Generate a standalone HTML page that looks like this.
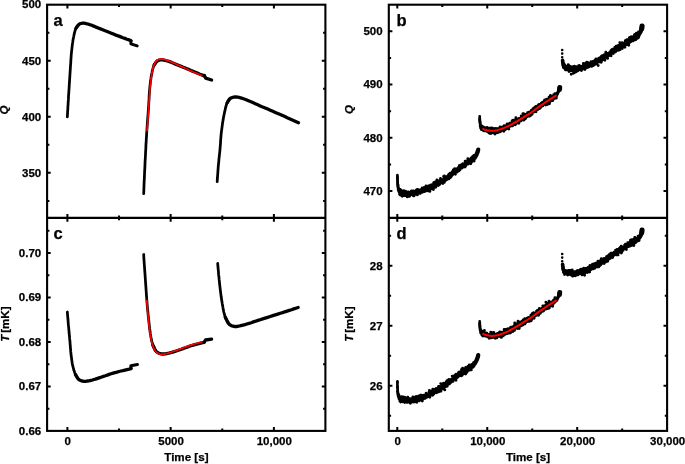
<!DOCTYPE html>
<html lang="en"><head><meta charset="utf-8"><title>Figure</title>
<style>
html,body{margin:0;padding:0;background:#fff;}
body{width:685px;height:464px;overflow:hidden;}
svg{display:block;}
svg text{font-family:"Liberation Sans",Arial,Helvetica,sans-serif;font-weight:bold;fill:#000;stroke:#000;stroke-width:0.25px;}
</style></head><body>
<svg width="685" height="464" viewBox="0 0 685 464">
<rect width="685" height="464" fill="#fff"/>
<rect x="47.1" y="4.7" width="278.3" height="426.2" fill="none" stroke="#000" stroke-width="2.1"/>
<line x1="47.1" y1="217.9" x2="325.4" y2="217.9" stroke="#000" stroke-width="2.1"/>
<rect x="388.8" y="4.7" width="278.3" height="426.2" fill="none" stroke="#000" stroke-width="2.1"/>
<line x1="388.8" y1="217.9" x2="667.1" y2="217.9" stroke="#000" stroke-width="2.1"/>
<path d="M67.40,4.70V8.50M67.40,214.10V221.70M67.40,427.10V430.90M119.03,4.70V7.00M119.03,215.60V220.20M119.03,428.60V430.90M170.65,4.70V8.50M170.65,214.10V221.70M170.65,427.10V430.90M222.28,4.70V7.00M222.28,215.60V220.20M222.28,428.60V430.90M273.90,4.70V8.50M273.90,214.10V221.70M273.90,427.10V430.90M397.30,4.70V8.50M397.30,214.10V221.70M397.30,427.10V430.90M442.28,4.70V7.00M442.28,215.60V220.20M442.28,428.60V430.90M487.25,4.70V8.50M487.25,214.10V221.70M487.25,427.10V430.90M532.23,4.70V7.00M532.23,215.60V220.20M532.23,428.60V430.90M577.20,4.70V8.50M577.20,214.10V221.70M577.20,427.10V430.90M622.17,4.70V7.00M622.17,215.60V220.20M622.17,428.60V430.90M47.10,60.75H50.70M321.80,60.75H325.40M47.10,116.80H50.70M321.80,116.80H325.40M47.10,172.85H50.70M321.80,172.85H325.40M47.10,32.73H49.40M323.10,32.73H325.40M47.10,88.78H49.40M323.10,88.78H325.40M47.10,144.82H49.40M323.10,144.82H325.40M47.10,200.88H49.40M323.10,200.88H325.40M47.10,253.00H50.70M321.80,253.00H325.40M47.10,297.47H50.70M321.80,297.47H325.40M47.10,341.94H50.70M321.80,341.94H325.40M47.10,386.41H50.70M321.80,386.41H325.40M47.10,230.76H49.40M323.10,230.76H325.40M47.10,275.24H49.40M323.10,275.24H325.40M47.10,319.70H49.40M323.10,319.70H325.40M47.10,364.17H49.40M323.10,364.17H325.40M47.10,408.64H49.40M323.10,408.64H325.40M388.80,31.30H392.40M663.50,31.30H667.10M388.80,84.55H392.40M663.50,84.55H667.10M388.80,137.80H392.40M663.50,137.80H667.10M388.80,191.05H392.40M663.50,191.05H667.10M388.80,57.92H391.10M664.80,57.92H667.10M388.80,111.17H391.10M664.80,111.17H667.10M388.80,164.43H391.10M664.80,164.43H667.10M388.80,265.86H392.40M663.50,265.86H667.10M388.80,325.86H392.40M663.50,325.86H667.10M388.80,385.86H392.40M663.50,385.86H667.10M388.80,235.86H391.10M664.80,235.86H667.10M388.80,295.86H391.10M664.80,295.86H667.10M388.80,355.86H391.10M664.80,355.86H667.10M388.80,415.86H391.10M664.80,415.86H667.10" stroke="#000" stroke-width="2.0" fill="none"/>
<text x="41.2" y="7.9" text-anchor="end" font-size="11.5">500</text>
<text x="41.2" y="64.5" text-anchor="end" font-size="11.5">450</text>
<text x="41.2" y="120.6" text-anchor="end" font-size="11.5">400</text>
<text x="41.2" y="176.7" text-anchor="end" font-size="11.5">350</text>
<text x="41.2" y="256.8" text-anchor="end" font-size="11.5">0.70</text>
<text x="41.2" y="301.3" text-anchor="end" font-size="11.5">0.69</text>
<text x="41.2" y="345.7" text-anchor="end" font-size="11.5">0.68</text>
<text x="41.2" y="390.2" text-anchor="end" font-size="11.5">0.67</text>
<text x="41.2" y="434.7" text-anchor="end" font-size="11.5">0.66</text>
<text x="382.6" y="35.1" text-anchor="end" font-size="11.5">500</text>
<text x="382.6" y="88.3" text-anchor="end" font-size="11.5">490</text>
<text x="382.6" y="141.6" text-anchor="end" font-size="11.5">480</text>
<text x="382.6" y="194.9" text-anchor="end" font-size="11.5">470</text>
<text x="382.6" y="269.7" text-anchor="end" font-size="11.5">28</text>
<text x="382.6" y="329.7" text-anchor="end" font-size="11.5">27</text>
<text x="382.6" y="389.7" text-anchor="end" font-size="11.5">26</text>
<text x="67.8" y="444.9" text-anchor="middle" font-size="11.5">0</text>
<text x="171.1" y="444.9" text-anchor="middle" font-size="11.5">5000</text>
<text x="274.3" y="444.9" text-anchor="middle" font-size="11.5">10,000</text>
<text x="397.8" y="444.9" text-anchor="middle" font-size="11.5">0</text>
<text x="487.8" y="444.9" text-anchor="middle" font-size="11.5">10,000</text>
<text x="577.7" y="444.9" text-anchor="middle" font-size="11.5">20,000</text>
<text x="667.7" y="444.9" text-anchor="middle" font-size="11.5">30,000</text>
<text x="186.4" y="461.3" text-anchor="middle" font-size="11.6">Time [s]</text>
<text x="528.0" y="461.3" text-anchor="middle" font-size="11.6">Time [s]</text>
<text x="53.6" y="25.8" text-anchor="start" font-size="16.5">a</text>
<text x="53.6" y="238.6" text-anchor="start" font-size="16.5">c</text>
<text x="396.6" y="25.8" text-anchor="start" font-size="16.5">b</text>
<text x="396.6" y="238.6" text-anchor="start" font-size="16.5">d</text>
<text transform="translate(8.3,110.0) rotate(-90)" text-anchor="middle" font-size="11.5"><tspan font-style="italic">Q</tspan></text>
<text transform="translate(352.7,109.6) rotate(-90)" text-anchor="middle" font-size="11.5"><tspan font-style="italic">Q</tspan></text>
<text transform="translate(9.0,324.1) rotate(-90)" text-anchor="middle" font-size="11.5"><tspan font-style="italic">T</tspan><tspan dx="-1.3"> [mK]</tspan></text>
<text transform="translate(353.2,324.1) rotate(-90)" text-anchor="middle" font-size="11.5"><tspan font-style="italic">T</tspan><tspan dx="-1.3"> [mK]</tspan></text>
<path d="M67.3,116.8 L67.5,114.3 L67.6,111.8 L67.8,109.3 L67.9,106.8 L68.1,104.3 L68.2,101.8 L68.4,99.4 L68.5,97.0 L68.6,94.8 L68.8,92.6 L68.9,90.4 L69.1,88.3 L69.2,86.1 L69.3,84.0 L69.5,82.0 L69.6,80.0 L69.7,78.4 L69.8,76.8 L69.9,75.2 L70.0,73.7 L70.1,72.2 L70.2,70.7 L70.3,69.1 L70.4,67.5 L70.5,65.6 L70.7,63.6 L70.8,61.5 L70.9,59.4 L71.1,57.3 L71.2,55.3 L71.4,53.2 L71.6,51.2 L71.8,49.5 L72.0,47.7 L72.2,45.9 L72.4,44.1 L72.7,42.4 L72.9,40.7 L73.2,39.1 L73.5,37.5 L73.8,36.2 L74.0,34.9 L74.3,33.7 L74.6,32.4 L74.9,31.3 L75.2,30.2 L75.6,29.1 L76.0,28.2 L76.3,27.6 L76.7,27.1 L77.1,26.6 L77.5,26.1 L77.9,25.7 L78.3,25.2 L78.7,24.8 L79.1,24.3" fill="none" stroke="#000" stroke-width="2.75" stroke-linecap="round" stroke-linejoin="round"/>
<path d="M76.0,28.2 L76.4,27.7 L76.7,27.2 L77.1,26.6 L77.5,26.1 L77.8,25.6 L78.2,25.1 L78.7,24.7 L79.1,24.3 L79.5,24.0 L80.0,23.8 L80.4,23.6 L80.9,23.5 L81.4,23.4 L81.9,23.3 L82.4,23.2 L82.9,23.2 L83.5,23.2 L84.2,23.2 L84.8,23.3 L85.5,23.4 L86.2,23.6 L87.0,23.8 L87.7,24.0 L88.5,24.2 L89.7,24.6 L91.0,25.0 L92.4,25.6 L93.8,26.1 L95.3,26.7 L96.7,27.4 L98.2,28.0 L99.8,28.6 L101.5,29.3 L103.3,30.0 L105.2,30.8 L107.1,31.5 L109.0,32.3 L110.9,33.1 L112.8,33.8 L114.8,34.6 L116.7,35.4 L118.8,36.1 L120.8,36.9 L122.8,37.7 L124.9,38.4 L126.9,39.2 L129.0,39.9 L131.0,40.7" fill="none" stroke="#000" stroke-width="3.3" stroke-linecap="round" stroke-linejoin="round"/>
<path d="M131.0,41.0 L130.9,43.8 L137.2,45.9" fill="none" stroke="#000" stroke-width="3.0" stroke-linecap="round" stroke-linejoin="round"/>
<path d="M143.7,193.7 L143.9,188.4 L144.1,182.9 L144.4,177.4 L144.6,171.9 L144.9,166.6 L145.1,161.4 L145.4,156.5 L145.6,152.0 L145.8,149.1 L145.9,146.4 L146.0,143.8 L146.2,141.3 L146.3,138.9 L146.5,136.5 L146.6,134.0 L146.8,131.4 L147.0,128.5 L147.2,125.6 L147.4,122.6 L147.6,119.6 L147.9,116.5 L148.1,113.6 L148.3,110.6 L148.5,107.8 L148.7,105.1 L148.8,102.5 L149.0,99.9 L149.1,97.4 L149.2,94.9 L149.4,92.4 L149.6,90.0 L149.8,87.7 L150.0,85.8 L150.2,84.0 L150.4,82.2 L150.6,80.4 L150.9,78.7 L151.1,77.1 L151.4,75.5 L151.7,73.9 L152.0,72.6 L152.2,71.4 L152.5,70.2 L152.8,69.0 L153.1,67.9 L153.4,66.8 L153.8,65.8 L154.2,64.9 L154.5,64.3 L154.9,63.7 L155.3,63.2 L155.7,62.8 L156.1,62.3 L156.6,61.8 L157.0,61.4 L157.4,60.9" fill="none" stroke="#000" stroke-width="2.75" stroke-linecap="round" stroke-linejoin="round"/>
<path d="M154.2,64.9 L154.6,64.4 L155.0,63.8 L155.3,63.3 L155.7,62.7 L156.1,62.2 L156.5,61.7 L156.9,61.3 L157.4,60.9 L157.8,60.7 L158.2,60.5 L158.7,60.3 L159.1,60.2 L159.6,60.1 L160.1,60.0 L160.6,59.9 L161.1,59.9 L161.8,59.9 L162.5,59.9 L163.3,60.0 L164.0,60.2 L164.8,60.3 L165.6,60.5 L166.5,60.8 L167.4,61.0 L168.8,61.4 L170.3,61.9 L171.8,62.5 L173.5,63.2 L175.1,63.9 L176.8,64.6 L178.4,65.2 L180.0,65.9 L181.6,66.5 L183.1,67.2 L184.7,67.8 L186.3,68.5 L187.8,69.1 L189.4,69.8 L191.0,70.5 L192.5,71.1 L194.0,71.7 L195.5,72.3 L197.0,72.9 L198.5,73.6 L199.9,74.2 L201.4,74.8 L202.9,75.4 L204.4,76.0" fill="none" stroke="#000" stroke-width="3.3" stroke-linecap="round" stroke-linejoin="round"/>
<path d="M204.4,75.4 L205.6,78.2 L211.6,80.0" fill="none" stroke="#000" stroke-width="3.3" stroke-linecap="round" stroke-linejoin="round"/>
<path d="M147.0,131.4 L147.2,128.4 L147.4,125.4 L147.7,122.4 L147.9,119.5 L148.1,116.5 L148.3,113.5 L148.5,110.6 L148.7,107.8 L148.9,105.1 L149.0,102.5 L149.2,99.9 L149.3,97.4 L149.5,94.9 L149.6,92.4 L149.8,90.0 L150.0,87.7 L150.2,85.8 L150.4,84.0 L150.6,82.2 L150.8,80.5 L151.0,78.8 L151.3,77.1 L151.5,75.5 L151.8,73.9 L152.0,72.6 L152.3,71.3 L152.6,70.1 L152.8,68.9 L153.1,67.7 L153.4,66.6 L153.8,65.6 L154.2,64.6 L154.5,63.9 L154.9,63.3 L155.2,62.6 L155.6,62.1 L156.0,61.5 L156.4,61.0 L156.8,60.6 L157.3,60.2 L157.7,59.9 L158.2,59.7 L158.6,59.5 L159.1,59.4 L159.6,59.3 L160.1,59.2 L160.6,59.1 L161.1,59.1 L161.8,59.1 L162.5,59.2 L163.3,59.3 L164.0,59.4 L164.8,59.6 L165.7,59.9 L166.5,60.1 L167.4,60.4 L168.8,60.9 L170.3,61.5 L171.8,62.1 L173.5,62.9 L175.1,63.6 L176.8,64.4 L178.4,65.2 L180.0,65.9 L181.6,66.6 L183.2,67.3 L184.8,68.1 L186.3,68.8 L187.9,69.5 L189.5,70.2 L191.0,70.9 L192.5,71.6 L193.8,72.2 L195.1,72.7 L196.3,73.3 L197.6,73.8 L198.8,74.3 L200.0,74.8 L201.3,75.4 L202.5,75.9" fill="none" stroke="#f00" stroke-width="1.7" stroke-linecap="butt" stroke-linejoin="round"/>
<path d="M217.2,181.7 L217.3,179.6 L217.5,177.5 L217.6,175.4 L217.8,173.3 L217.9,171.2 L218.1,169.1 L218.2,167.0 L218.4,165.0 L218.6,163.1 L218.8,161.3 L218.9,159.5 L219.1,157.8 L219.3,156.0 L219.5,154.2 L219.7,152.3 L219.9,150.4 L220.1,148.1 L220.3,145.7 L220.5,143.3 L220.6,140.8 L220.8,138.4 L221.0,135.9 L221.2,133.5 L221.5,131.1 L221.8,128.9 L222.1,126.7 L222.4,124.4 L222.7,122.2 L223.1,120.1 L223.4,118.0 L223.8,116.0 L224.2,114.0 L224.5,112.4 L224.9,110.9 L225.2,109.4 L225.5,107.9 L225.9,106.5 L226.3,105.1 L226.7,103.9 L227.2,102.8 L227.5,102.1 L227.9,101.5 L228.3,101.0 L228.7,100.5 L229.0,100.0 L229.4,99.5 L229.8,99.0 L230.2,98.5" fill="none" stroke="#000" stroke-width="2.75" stroke-linecap="round" stroke-linejoin="round"/>
<path d="M227.2,102.8 L227.6,102.2 L227.9,101.7 L228.2,101.1 L228.6,100.5 L228.9,99.9 L229.3,99.4 L229.7,98.9 L230.2,98.5 L230.7,98.2 L231.2,97.9 L231.8,97.7 L232.3,97.5 L232.9,97.3 L233.5,97.2 L234.2,97.1 L234.8,97.0 L235.6,97.0 L236.3,97.0 L237.1,97.1 L237.9,97.2 L238.8,97.4 L239.7,97.6 L240.6,97.8 L241.6,98.1 L243.5,98.7 L245.6,99.5 L247.9,100.5 L250.3,101.5 L252.8,102.6 L255.3,103.7 L257.8,104.8 L260.2,105.9 L262.7,107.0 L265.2,108.0 L267.7,109.1 L270.3,110.2 L272.8,111.3 L275.3,112.4 L277.8,113.5 L280.3,114.6 L282.6,115.6 L284.9,116.6 L287.2,117.7 L289.5,118.7 L291.7,119.7 L294.0,120.7 L296.2,121.7 L298.5,122.7" fill="none" stroke="#000" stroke-width="3.3" stroke-linecap="round" stroke-linejoin="round"/>
<path d="M67.3,312.0 L67.5,313.8 L67.6,315.5 L67.8,317.3 L67.9,319.0 L68.1,320.8 L68.2,322.5 L68.3,324.3 L68.5,326.0 L68.7,327.7 L68.8,329.5 L69.0,331.2 L69.1,333.0 L69.3,334.7 L69.5,336.5 L69.6,338.2 L69.8,340.0 L70.0,341.9 L70.1,343.8 L70.3,345.7 L70.4,347.6 L70.6,349.5 L70.7,351.4 L70.9,353.2 L71.1,355.0 L71.3,356.5 L71.5,358.0 L71.7,359.5 L71.9,360.9 L72.1,362.4 L72.3,363.7 L72.6,365.1 L72.9,366.4 L73.2,367.5 L73.5,368.6 L73.7,369.7 L74.1,370.7 L74.4,371.7 L74.7,372.7 L75.1,373.6 L75.5,374.5 L75.8,375.2 L76.2,375.8 L76.6,376.4 L77.0,377.0 L77.4,377.6 L77.8,378.1 L78.2,378.7 L78.6,379.3" fill="none" stroke="#000" stroke-width="2.75" stroke-linecap="round" stroke-linejoin="round"/>
<path d="M75.5,374.5 L75.9,375.1 L76.2,375.8 L76.6,376.4 L76.9,377.1 L77.3,377.7 L77.7,378.3 L78.1,378.8 L78.6,379.3 L79.1,379.7 L79.6,380.0 L80.1,380.3 L80.7,380.5 L81.2,380.7 L81.8,380.9 L82.4,381.1 L83.0,381.2 L83.6,381.3 L84.3,381.3 L85.0,381.3 L85.6,381.3 L86.3,381.2 L87.1,381.1 L87.8,381.0 L88.6,380.9 L89.8,380.7 L91.1,380.3 L92.5,380.0 L93.9,379.5 L95.4,379.1 L96.9,378.6 L98.4,378.1 L99.9,377.6 L101.7,377.0 L103.5,376.4 L105.4,375.8 L107.3,375.1 L109.2,374.4 L111.1,373.8 L113.1,373.2 L115.0,372.6 L117.0,372.1 L119.0,371.5 L121.0,371.0 L123.0,370.6 L125.0,370.1 L127.1,369.6 L129.1,369.2 L131.1,368.7" fill="none" stroke="#000" stroke-width="3.3" stroke-linecap="round" stroke-linejoin="round"/>
<path d="M131.0,368.0 L130.9,365.8 L137.4,364.5" fill="none" stroke="#000" stroke-width="3.1" stroke-linecap="round" stroke-linejoin="round"/>
<path d="M143.7,254.5 L143.8,257.3 L144.0,260.1 L144.2,262.9 L144.4,265.7 L144.6,268.5 L144.8,271.4 L145.0,274.2 L145.2,277.0 L145.4,279.9 L145.6,282.8 L145.8,285.7 L146.0,288.6 L146.2,291.5 L146.4,294.4 L146.6,297.2 L146.8,300.0 L147.0,302.5 L147.2,304.9 L147.4,307.3 L147.6,309.6 L147.9,312.0 L148.1,314.3 L148.3,316.6 L148.6,318.8 L148.8,320.8 L149.0,322.7 L149.2,324.7 L149.4,326.6 L149.6,328.5 L149.9,330.3 L150.1,332.1 L150.4,333.9 L150.7,335.4 L150.9,336.9 L151.2,338.4 L151.5,339.9 L151.8,341.3 L152.2,342.7 L152.5,344.0 L152.9,345.2 L153.3,346.1 L153.7,346.9 L154.1,347.7 L154.5,348.4 L154.9,349.1 L155.3,349.8 L155.7,350.6 L156.1,351.3" fill="none" stroke="#000" stroke-width="2.75" stroke-linecap="round" stroke-linejoin="round"/>
<path d="M152.9,345.2 L153.3,346.0 L153.7,346.8 L154.0,347.6 L154.4,348.5 L154.7,349.3 L155.1,350.0 L155.6,350.7 L156.1,351.3 L156.6,351.8 L157.2,352.2 L157.8,352.6 L158.4,353.0 L159.0,353.3 L159.7,353.5 L160.4,353.7 L161.1,353.9 L161.9,354.0 L162.8,354.0 L163.7,354.0 L164.7,353.9 L165.6,353.8 L166.6,353.6 L167.6,353.4 L168.6,353.2 L169.9,352.9 L171.3,352.5 L172.7,352.1 L174.1,351.7 L175.5,351.2 L177.0,350.7 L178.4,350.2 L179.9,349.7 L181.4,349.2 L183.0,348.6 L184.6,348.0 L186.2,347.5 L187.8,346.9 L189.4,346.3 L190.9,345.8 L192.5,345.3 L194.0,344.9 L195.5,344.4 L197.0,344.1 L198.5,343.7 L199.9,343.3 L201.4,342.9 L202.9,342.6 L204.4,342.2" fill="none" stroke="#000" stroke-width="3.3" stroke-linecap="round" stroke-linejoin="round"/>
<path d="M204.4,341.8 L205.6,340.0 L211.6,339.2" fill="none" stroke="#000" stroke-width="3.3" stroke-linecap="round" stroke-linejoin="round"/>
<path d="M146.7,300.0 L146.9,302.4 L147.1,304.7 L147.3,307.1 L147.5,309.5 L147.7,311.9 L148.0,314.2 L148.2,316.5 L148.4,318.8 L148.6,320.8 L148.8,322.7 L149.0,324.7 L149.2,326.6 L149.4,328.5 L149.7,330.3 L149.9,332.1 L150.2,333.9 L150.5,335.4 L150.7,337.0 L151.0,338.5 L151.3,340.0 L151.6,341.4 L151.9,342.8 L152.3,344.2 L152.7,345.4 L153.0,346.3 L153.4,347.2 L153.7,348.1 L154.1,348.9 L154.5,349.7 L154.9,350.4 L155.4,351.1 L155.9,351.7 L156.4,352.2 L157.0,352.6 L157.6,353.0 L158.3,353.4 L159.0,353.7 L159.7,354.0 L160.4,354.2 L161.1,354.3 L161.9,354.4 L162.8,354.3 L163.7,354.2 L164.7,354.0 L165.6,353.8 L166.6,353.5 L167.6,353.3 L168.6,353.0 L169.9,352.6 L171.3,352.2 L172.7,351.7 L174.1,351.2 L175.5,350.7 L177.0,350.2 L178.4,349.6 L179.9,349.1 L181.5,348.5 L183.0,348.0 L184.6,347.4 L186.2,346.8 L187.8,346.2 L189.4,345.6 L191.0,345.1 L192.5,344.6 L193.8,344.2 L195.1,343.8 L196.3,343.5 L197.6,343.1 L198.8,342.8 L200.0,342.5 L201.3,342.1 L202.5,341.8" fill="none" stroke="#f00" stroke-width="1.7" stroke-linecap="butt" stroke-linejoin="round"/>
<path d="M217.7,263.3 L217.8,264.9 L217.9,266.5 L218.1,268.1 L218.2,269.6 L218.4,271.2 L218.5,272.8 L218.6,274.4 L218.8,276.0 L219.0,277.6 L219.1,279.2 L219.3,280.9 L219.5,282.5 L219.6,284.1 L219.8,285.7 L220.0,287.4 L220.2,289.0 L220.4,290.6 L220.6,292.2 L220.8,293.8 L221.0,295.4 L221.2,297.1 L221.5,298.7 L221.7,300.3 L222.0,302.0 L222.3,303.9 L222.7,305.9 L223.0,307.9 L223.4,310.0 L223.8,312.0 L224.3,313.9 L224.8,315.7 L225.3,317.3 L225.7,318.3 L226.2,319.3 L226.7,320.1 L227.2,321.0 L227.7,321.8 L228.2,322.6 L228.7,323.4 L229.2,324.2" fill="none" stroke="#000" stroke-width="2.75" stroke-linecap="round" stroke-linejoin="round"/>
<path d="M225.3,317.3 L225.8,318.2 L226.2,319.1 L226.7,320.1 L227.1,321.0 L227.6,321.9 L228.0,322.8 L228.6,323.6 L229.2,324.2 L229.8,324.7 L230.4,325.1 L231.0,325.4 L231.7,325.8 L232.4,326.0 L233.1,326.2 L233.8,326.4 L234.6,326.5 L235.5,326.6 L236.5,326.5 L237.5,326.4 L238.5,326.2 L239.6,326.0 L240.7,325.7 L241.9,325.4 L243.1,325.1 L245.0,324.6 L246.9,324.0 L249.0,323.4 L251.2,322.7 L253.4,321.9 L255.7,321.2 L258.0,320.4 L260.2,319.7 L262.6,318.9 L265.1,318.1 L267.7,317.3 L270.2,316.5 L272.8,315.7 L275.3,314.9 L277.8,314.1 L280.3,313.3 L282.6,312.6 L284.8,311.8 L287.1,311.1 L289.3,310.4 L291.5,309.7 L293.7,308.9 L295.9,308.2 L298.1,307.5" fill="none" stroke="#000" stroke-width="3.3" stroke-linecap="round" stroke-linejoin="round"/>
<path d="M397.4,175.2 L397.4,175.8 L397.4,176.4 L397.4,177.0 L397.4,177.6 L397.4,178.2 L397.5,178.8 L397.5,179.4 L397.5,180.0 L397.5,180.7 L397.6,181.5 L397.6,182.2 L397.6,183.0 L397.7,183.8 L397.7,184.5 L397.8,185.3 L397.9,186.0 L398.0,186.6 L398.1,187.2 L398.1,187.8 L398.2,188.4 L398.3,189.0 L398.5,189.5 L398.6,190.0 L398.8,190.5 L399.0,190.8 L399.2,191.2 L399.4,191.4 L399.6,191.7 L399.9,192.0 L400.1,192.3 L400.4,192.5 L400.6,192.8" fill="none" stroke="#000" stroke-width="2.7" stroke-linecap="round" stroke-linejoin="round"/>
<path d="M397.4,177.5h0m.1,1.9h0m.1,3.0h0m.1,2.2h0m.1-.4h0m.1,1.9h0m.1,.8h0m.1-1.6h0m.1,4.5h0m.1,0h0m.1-1.2h0m.1,.9h0m.1,1.3h0m.1-.8h0m.1,.3h0m.1-1.5h0m.1,2.9h0m.1-.4h0m.2,.4h0m.1-2.2h0m.1,4.4h0m.1-1.9h0m.1-.6h0m.1,3.4h0m.1-2.7h0m.1-1.8h0m.1,1.5h0m.1-2.4h0m.1,4.6h0m.1-1.9h0m.1-.4h0m.1,2.5h0m.1-3.6h0m.1,3.0h0m.1-3.5h0m.1,2.0h0m.1-.7h0m.1,3.6h0m.1,.4h0m.1-2.8h0m.1,1.6h0m.1-1.4h0m.1,1.1h0m.1-1.8h0m.1-1.3h0m.1-.1h0m.1,2.9h0m.1,2.6h0m.1-2.7h0m.1-1.1h0m.1,3.3h0m.1-2.2h0m.1-.2h0m.1,.2h0m.2-.5h0m.1-.2h0m.1-1.5h0m.1,2.6h0m.1-.8h0m.1,1.8h0m.1-2.1h0m.1-2.1h0m.1,2.5h0m.1,2.4h0m.1-2.8h0m.1-.6h0m.1-.4h0m.1,.2h0m.1,1.0h0m.1-1.1h0m.1,3.6h0m.1-2.4h0m.1,.6h0m.1,1.8h0m.1,.1h0m.1-2.3h0m.1,.7h0m.1,.6h0m.1-1.2h0m.1-2.1h0m.1,3.3h0m.1,.3h0m.1-.6h0m.1-1.8h0m.1,1.0h0m.1-.5h0m.1,.4h0m.1,2.1h0m.1,.4h0m.1-1.2h0m.2-.1h0m.1,.2h0m.1-1.0h0m.1,0h0m.1-.8h0m.1,.8h0m.1,3.1h0m.1-1.8h0m.1-1.7h0m.1-.1h0m.1-.6h0m.1,1.7h0m.1,0h0m.1-2.4h0m.1,2.6h0m.1-1.5h0m.1,2.7h0m.1-1.7h0m.1,2.1h0m.1-2.9h0m.1,.2h0m.1,.8h0m.1,1.0h0m.1-.6h0m.1-2.5h0m.1,1.9h0m.1-.2h0m.1-.6h0m.1-.3h0m.1,3.2h0m.1-2.9h0m.1-.6h0m.1,2.0h0m.1-.7h0m.1-.3h0m.2,1.2h0m.1-.4h0m.1-.2h0m.1,.8h0m.1-.9h0m.1-1.3h0m.1,.4h0m.1-.3h0m.1,1.0h0m.1-1.7h0m.1-1.1h0m.1,2.6h0m.1-1.9h0m.1-.9h0m.1,3.2h0m.1-1.5h0m.1,1.6h0m.1-1.4h0m.1-.8h0m.1-.2h0m.1,1.0h0m.1,.3h0m.1-.8h0m.1,.7h0m.1-1.7h0m.1,2.1h0m.1-2.5h0m.1,2.1h0m.1,1.2h0m.1,.5h0m.1,.9h0m.1-4.5h0m.1,3.1h0m.1,.6h0m.1-.3h0m.1-2.6h0m.2,1.7h0m.1,2.0h0m.1-4.6h0m.1,2.6h0m.1,.9h0m.1-2.5h0m.1,1.7h0m.1-2.3h0m.1,.4h0m.1-.1h0m.1,1.4h0m.1-.5h0m.1,1.4h0m.1-2.6h0m.1,1.1h0m.1,1.4h0m.1-.5h0m.1-2.6h0m.1,2.6h0m.1-1.5h0m.1,1.1h0m.1-.1h0m.1,1.2h0m.1-1.5h0m.1-2.7h0m.1,.6h0m.1,2.8h0m.1-1.4h0m.1,1.9h0m.1-1.2h0m.1-1.4h0m.1,2.4h0m.1-2.6h0m.1-1.7h0m.1,5.5h0m.1-5.4h0m.2,3.4h0m.1,.4h0m.1-1.1h0m.1-2.5h0m.1,3.6h0m.1-3.3h0m.1,.1h0m.1,1.3h0m.1,1.5h0m.1-.7h0m.1,.6h0m.1-1.7h0m.1,.3h0m.1-1.3h0m.1,1.1h0m.1,1.2h0m.1-1.3h0m.1,1.0h0m.1-1.4h0m.1-.1h0m.1,.9h0m.1-.4h0m.1,1.0h0m.1-.6h0m.1,2.1h0m.1-2.7h0m.1,0h0m.1-1.1h0m.1,1.4h0m.1,.8h0m.1-1.9h0m.1,.8h0m.1,1.0h0m.1-1.1h0m.1-.6h0m.2,2.0h0m.1-1.2h0m.1,.3h0m.1,1.0h0m.1,0h0m.1-2.1h0m.1-.3h0m.1,1.1h0m.1-.6h0m.1-2.4h0m.1,4.2h0m.1-1.7h0m.1,.9h0m.1-2.6h0m.1,3.3h0m.1-2.6h0m.1,.6h0m.1-1.7h0m.1,1.6h0m.1-.1h0m.1,0h0m.1,.8h0m.1-.6h0m.1,1.2h0m.1-2.0h0m.1-.7h0m.1,1.3h0m.1,.8h0m.1,.8h0m.1-.6h0m.1-3.5h0m.1,2.8h0m.1,1.4h0m.1-1.9h0m.1-.8h0m.1,1.1h0m.2-1.2h0m.1,1.5h0m.1-.9h0m.1,1.9h0m.1-1.3h0m.1-1.7h0m.1,1.8h0m.1,.4h0m.1-2.1h0m.1,.2h0m.1-2.6h0m.1,4.3h0m.1-2.0h0m.1-2.2h0m.1,.5h0m.1,2.0h0m.1,1.3h0m.1-1.2h0m.1,.7h0m.1-2.1h0m.1-.4h0m.1,3.0h0m.1-.6h0m.1-.7h0m.1,1.7h0m.1-3.1h0m.1,.7h0m.1,1.9h0m.1,1.1h0m.1-2.5h0m.1,2.2h0m.1-3.1h0m.1,1.2h0m.1-.7h0m.1-2.0h0m.1,2.5h0m.2,.8h0m.1-1.5h0m.1,.1h0m.1,1.9h0m.1-3.6h0m.1-.4h0m.1,1.1h0m.1-.7h0m.1,3.4h0m.1-1.5h0m.1-1.6h0m.1,.3h0m.1,4.6h0m.1-4.7h0m.1-.3h0m.1,1.4h0m.1,.5h0m.1-.7h0m.1-1.5h0m.1-.4h0m.1,2.3h0m.1-.9h0m.1-2.2h0m.1,3.8h0m.1-.6h0m.1-1.4h0m.1-.1h0m.1,.6h0m.1-1.3h0m.1-.9h0m.1,2.2h0m.1-2.4h0m.1,2.4h0m.1-2.5h0m.1,1.7h0m.2-.1h0m.1,2.6h0m.1-3.9h0m.1-.5h0m.1,1.0h0m.1-.7h0m.1,.6h0m.1,1.4h0m.1,.4h0m.1,1.1h0m.1-3.2h0m.1,4.5h0m.1-1.0h0m.1-3.0h0m.1-2.8h0m.1,2.9h0m.1,.2h0m.1-3.3h0m.1,3.1h0m.1-.4h0m.1-.8h0m.1,1.8h0m.1,.5h0m.1-2.1h0m.1,.9h0m.1-1.2h0m.1-.2h0m.1,1.1h0m.1,.5h0m.1-1.5h0m.1-2.3h0m.1,3.8h0m.1-3.0h0m.1,2.2h0m.1,2.2h0m.1-2.5h0m.2-1.6h0m.1-.4h0m.1,3.5h0m.1-1.7h0m.1,.7h0m.1,.5h0m.1-1.4h0m.1-.4h0m.1-.9h0m.1-3.0h0m.1,2.1h0m.1,1.9h0m.1-.2h0m.1,.7h0m.1-.8h0m.1,.4h0m.1,.8h0m.1-2.4h0m.1,.8h0m.1-1.9h0m.1,3.5h0m.1-1.3h0m.1,.5h0m.1,1.4h0m.1-.7h0m.1-1.6h0m.1,1.1h0m.1-3.1h0m.1,2.5h0m.1-.5h0m.1-2.4h0m.1,3.9h0m.1-2.8h0m.1,1.8h0m.1-1.5h0m.1,1.8h0m.2,.4h0m.1-3.0h0m.1-1.0h0m.1,1.8h0m.1,1.3h0m.1-1.7h0m.1-.4h0m.1,1.4h0m.1-4.4h0m.1,2.8h0m.1-1.1h0m.1,2.2h0m.1-1.4h0m.1-.6h0m.1,1.0h0m.1-1.6h0m.1,1.9h0m.1-1.0h0m.1,.4h0m.1-.5h0m.1,2.1h0m.1-1.4h0m.1,.8h0m.1-.2h0m.1-1.8h0m.1,1.8h0m.1-.3h0m.1-.1h0m.1-1.1h0m.1-.1h0m.1,1.6h0m.1,1.8h0m.1-4.1h0m.1,1.8h0m.1-1.3h0m.2,1.5h0m.1-.5h0m.1,.8h0m.1-5.3h0m.1,2.9h0m.1-.6h0m.1,1.1h0m.1-.9h0m.1,.1h0m.1,1.7h0m.1,1.6h0m.1-6.5h0m.1,3.4h0m.1,.8h0m.1-.5h0m.1-.6h0m.1-1.4h0m.1,.5h0m.1,2.2h0m.1,.4h0m.1-1.4h0m.1-1.3h0m.1,1.2h0m.1-.5h0m.1,1.0h0m.1-.7h0m.1-1.0h0m.1,1.0h0m.1-1.9h0m.1,2.6h0m.1,.4h0m.1-3.2h0m.1,2.1h0m.1-2.0h0m.1,2.7h0m.1-.3h0m.2-1.6h0m.1,1.6h0m.1-2.0h0m.1-.3h0m.1,0h0m.1,.5h0m.1-.3h0m.1,.6h0m.1-1.1h0m.1,1.7h0m.1,.3h0m.1-2.1h0m.1-1.3h0m.1,2.8h0m.1,.5h0m.1-1.8h0m.1-1.6h0m.1,2.0h0m.1,1.6h0m.1-4.7h0m.1,3.1h0m.1-1.1h0m.1-.8h0m.1,1.7h0m.1-2.5h0m.1,2.1h0m.1,1.3h0m.1-1.7h0m.1-1.5h0m.1-1.3h0m.1,.6h0m.1-.9h0m.1,4.6h0m.1-2.6h0m.1-1.2h0m.1-.5h0m.2,.2h0m.1,.9h0m.1-1.4h0m.1,3.9h0m.1-3.4h0m.1-.2h0m.1,1.4h0m.1,1.4h0m.1-.3h0m.1-2.6h0m.1,.9h0m.1-.2h0m.1,.4h0m.1-.5h0m.1-1.7h0m.1-.5h0m.1,1.8h0m.1-1.9h0m.1,3.3h0m.1-1.8h0m.1-1.6h0m.1,.9h0m.1-.3h0m.1,.4h0m.1,1.4h0m.1-3.4h0m.1-.6h0m.1,2.9h0m.1-.8h0m.1,.4h0m.1,.3h0m.1-1.0h0m.1,1.3h0m.1-2.4h0m.1,1.2h0m.2-1.3h0m.1-.4h0m.1,2.2h0m.1-.1h0m.1-3.5h0m.1,1.0h0m.1,1.9h0m.1,1.0h0m.1-2.5h0m.1,.6h0m.1-1.7h0m.1,5.2h0m.1-2.8h0m.1,.4h0m.1-.3h0m.1,.2h0m.1-.5h0m.1-1.3h0m.1,1.4h0m.1-1.0h0m.1,1.6h0m.1-2.9h0m.1,.2h0m.1,1.6h0m.1,.7h0m.1-1.6h0m.1-1.2h0m.1,.7h0m.1-.6h0m.1,3.2h0m.1-1.4h0m.1,.4h0m.1-1.4h0m.1-1.2h0m.1,2.2h0m.1,.6h0m.2-1.5h0m.1-.9h0m.1,1.4h0m.1-2.0h0m.1,1.5h0m.1-2.1h0m.1-.4h0m.1,2.0h0m.1-.4h0m.1,2.0h0m.1-3.0h0m.1,.4h0m.1-1.7h0m.1-1.0h0m.1,0h0m.1,3.0h0m.1-2.3h0m.1,3.0h0m.1,.3h0m.1-2.3h0m.1,2.5h0m.1-2.0h0m.1,1.2h0m.1-1.9h0m.1,1.5h0m.1-2.6h0m.1,2.0h0m.1-1.5h0m.1,.3h0m.1,1.0h0m.1-.7h0m.1-.4h0m.1,1.0h0m.1,.1h0m.1-3.1h0m.1,2.6h0m.2,.1h0m.1-2.0h0m.1,1.5h0m.1-2.4h0m.1,3.6h0m.1-2.3h0m.1,.2h0m.1,1.6h0m.1-1.9h0m.1,1.0h0m.1-2.3h0m.1,.6h0m.1-1.2h0m.1,1.5h0m.1,1.6h0m.1-1.1h0m.1,.8h0m.1-2.6h0m.1,.1h0m.1,.5h0m.1,1.4h0m.1-.4h0m.1-.6h0m.1,.8h0m.1-1.1h0m.1,.1h0m.1,1.8h0m.1-2.6h0m.1,.9h0m.1,1.9h0m.1-2.1h0m.1,.8h0m.1-1.9h0m.1,3.4h0m.1-5.7h0m.2,1.4h0m.1,.1h0m.1,3.5h0m.1-1.7h0m.1-.9h0m.1-1.5h0m.1,2.2h0m.1-.4h0m.1-1.1h0m.1-1.2h0m.1,.5h0m.1,1.7h0m.1,.1h0m.1-.4h0m.1-.4h0m.1-2.2h0m.1,2.4h0m.1-1.5h0m.1,1.3h0m.1,.6h0m.1-1.6h0m.1-.6h0m.1,2.7h0m.1-.9h0m.1-1.4h0m.1-3.3h0m.1,3.9h0m.1,.9h0m.1,.6h0m.1-2.5h0m.1,0h0m.1,.2h0m.1,1.7h0m.1-2.8h0m.1,1.4h0m.1-1.2h0m.2,1.5h0m.1-2.5h0m.1,2.6h0m.1-1.3h0m.1,.3h0m.1,1.0h0m.1,.7h0m.1-3.9h0m.1,3.6h0m.1-.7h0m.1-1.2h0m.1,2.2h0m.1-1.7h0m.1,1.4h0m.1-2.6h0m.1-.4h0m.1,2.7h0m.1,1.2h0m.1-2.1h0m.1,.3h0m.1-1.9h0m.1-1.3h0m.1,1.4h0m.1,2.3h0m.1-4.6h0m.1,1.7h0m.1-1.9h0m.1,2.6h0m.1,1.0h0m.1-3.0h0m.1,1.1h0m.1,2.2h0m.1-2.0h0m.1-1.6h0m.1-.2h0m.1-1.0h0m.2,3.7h0m.1-2.1h0m.1,2.3h0m.1-.3h0m.1-2.2h0m.1,.1h0m.1,1.7h0m.1-.9h0m.1,.1h0m.1-2.7h0m.1,3.4h0m.1-2.5h0m.1-2.0h0m.1,2.2h0m.1,1.3h0m.1,2.2h0m.1-3.4h0m.1-1.4h0" fill="none" stroke="#000" stroke-width="2.9" stroke-linecap="round"/>
<path d="M474.8,157.6 L476.6,154.4 L477.8,151.4 L478.2,149.6" fill="none" stroke="#000" stroke-width="4.3" stroke-linecap="round" stroke-linejoin="round"/>
<path d="M479.7,116.3 L479.7,116.8 L479.7,117.2 L479.7,117.7 L479.7,118.2 L479.7,118.6 L479.8,119.1 L479.8,119.5 L479.8,120.0 L479.8,120.5 L479.8,120.9 L479.9,121.4 L479.9,121.8 L479.9,122.3 L480.0,122.7 L480.0,123.2 L480.1,123.6 L480.2,124.0 L480.2,124.4 L480.3,124.8 L480.4,125.2 L480.5,125.6 L480.6,125.9 L480.7,126.3 L480.9,126.6 L481.1,126.9 L481.2,127.1 L481.4,127.4 L481.6,127.6 L481.9,127.8 L482.1,128.0 L482.3,128.3 L482.5,128.5" fill="none" stroke="#000" stroke-width="2.7" stroke-linecap="round" stroke-linejoin="round"/>
<path d="M479.7,119.2h0m.1,1.1h0m.1,1.2h0m.1,0h0m.1,.8h0m.1,3.9h0m.1-1.8h0m.1,.1h0m.1,.4h0m.1,3.2h0m.1-2.7h0m.1,1.9h0m.1-.3h0m.1,.2h0m.1-1.4h0m.1,2.3h0m.1,1.4h0m.1-2.1h0m.1-1.1h0m.1-.4h0m.2,2.2h0m.1-.6h0m.1,.4h0m.1,.2h0m.1-1.9h0m.1,3.2h0m.1-.7h0m.1-.3h0m.1,.5h0m.1,1.0h0m.1-1.1h0m.1-1.2h0m.1,2.8h0m.1-2.1h0m.1-.3h0m.1-1.1h0m.1,2.2h0m.1-1.4h0m.1,.8h0m.1,1.3h0m.1-.5h0m.1,1.4h0m.1-.9h0m.1-.9h0m.1,.1h0m.1-.2h0m.1,1.6h0m.1-.8h0m.1-.5h0m.1,1.7h0m.1-1.0h0m.1-.7h0m.1-1.4h0m.1,2.7h0m.1-.2h0m.1-.3h0m.1-.6h0m.1-.5h0m.1,.9h0m.1,.6h0m.2-.5h0m.1,0h0m.1-.4h0m.1,1.1h0m.1-.1h0m.1-1.3h0m.1,2.1h0m.1,0h0m.1,.1h0m.1-1.3h0m.1,0h0m.1-1.3h0m.1,2.6h0m.1-3.9h0m.1,2.4h0m.1,.1h0m.1,1.6h0m.1-1.1h0m.1-1.3h0m.1-.6h0m.1,.9h0m.1,1.2h0m.1-.1h0m.1-.3h0m.1-.7h0m.1,.7h0m.1,1.6h0m.1-2.8h0m.1,1.6h0m.1,2.1h0m.1-1.4h0m.1-1.4h0m.1,1.6h0m.1-1.9h0m.1,1.0h0m.1,2.1h0m.1,.5h0m.1-4.9h0m.1,3.3h0m.2,1.7h0m.1-3.4h0m.1,1.1h0m.1,1.7h0m.1-2.7h0m.1,1.3h0m.1-.7h0m.1-2.5h0m.1,3.1h0m.1-.7h0m.1,1.5h0m.1,1.5h0m.1-1.9h0m.1-1.4h0m.1,1.1h0m.1-.3h0m.1,1.1h0m.1-3.3h0m.1,.4h0m.1-1.2h0m.1,3.6h0m.1-.9h0m.1-.8h0m.1-.1h0m.1,.2h0m.1-.5h0m.1,.8h0m.1-.2h0m.1,2.5h0m.1-1.4h0m.1-1.6h0m.1,.4h0m.1,2.4h0m.1-1.0h0m.1-.3h0m.1,.6h0m.1,1.2h0m.1-3.8h0m.1,.6h0m.2-1.3h0m.1,3.0h0m.1-1.2h0m.1-.4h0m.1-.2h0m.1,2.0h0m.1-1.1h0m.1-.6h0m.1,2.4h0m.1-3.1h0m.1-.3h0m.1,5.2h0m.1-4.0h0m.1-.3h0m.1-.2h0m.1,.7h0m.1,1.3h0m.1-.1h0m.1-.3h0m.1-1.1h0m.1-1.7h0m.1,2.4h0m.1,1.7h0m.1-.7h0m.1-1.7h0m.1,1.3h0m.1-1.6h0m.1,.4h0m.1-1.6h0m.1,1.2h0m.1,.6h0m.1-.4h0m.1,1.2h0m.1,1.5h0m.1-.8h0m.1-2.2h0m.1-.6h0m.1,.1h0m.1-.5h0m.1,1.4h0m.2,.5h0m.1-.4h0m.1,0h0m.1-.1h0m.1-.4h0m.1-.8h0m.1,3.3h0m.1-1.0h0m.1-2.7h0m.1,0h0m.1,.4h0m.1,.8h0m.1,1.6h0m.1-.3h0m.1,0h0m.1,0h0m.1,0h0m.1-.5h0m.1-.4h0m.1-.8h0m.1-2.3h0m.1,2.2h0m.1,2.6h0m.1-3.2h0m.1-.2h0m.1,2.2h0m.1-1.3h0m.1-.8h0m.1,2.7h0m.1-1.3h0m.1,.2h0m.1-1.8h0m.1,1.4h0m.1-.2h0m.1,.5h0m.1,.4h0m.1,0h0m.1-1.4h0m.1,.7h0m.2-2.5h0m.1,2.4h0m.1,0h0m.1-1.5h0m.1-.6h0m.1,1.0h0m.1-1.6h0m.1,2.0h0m.1-.1h0m.1-1.7h0m.1,1.3h0m.1,1.4h0m.1-.1h0m.1-.1h0m.1-1.6h0m.1-.3h0m.1-.1h0m.1,1.3h0m.1,2.3h0m.1-1.3h0m.1,.2h0m.1-.4h0m.1-4.0h0m.1,1.9h0m.1-.4h0m.1,2.2h0m.1,.6h0m.1-3.2h0m.1,.9h0m.1,.6h0m.1-1.4h0m.1-.2h0m.1-.2h0m.1,2.1h0m.1-2.5h0m.1,2.8h0m.1-1.5h0m.1,.9h0m.1,1.0h0m.1-3.0h0m.2-.3h0m.1,1.6h0m.1-2.0h0m.1,.4h0m.1,.8h0m.1,.3h0m.1-1.9h0m.1,1.1h0m.1,1.2h0m.1,1.0h0m.1-4.5h0m.1,4.4h0m.1-.6h0m.1-2.7h0m.1-.6h0m.1,2.5h0m.1-1.2h0m.1,.7h0m.1,.9h0m.1-1.7h0m.1,.7h0m.1,.4h0m.1,.5h0m.1,1.1h0m.1-.1h0m.1-2.0h0m.1-.7h0m.1,3.4h0m.1-2.4h0m.1-.3h0m.1-2.1h0m.1,2.5h0m.1-2.2h0m.1,.4h0m.1-1.2h0m.1,1.0h0m.1,.8h0m.1-2.2h0m.1,.8h0m.2,1.0h0m.1-1.6h0m.1-.1h0m.1,.5h0m.1-.8h0m.1,2.7h0m.1-2.3h0m.1,2.4h0m.1,.1h0m.1-2.9h0m.1,1.6h0m.1-.7h0m.1-1.0h0m.1,1.0h0m.1,.1h0m.1,1.2h0m.1,.4h0m.1-2.9h0m.1,.9h0m.1,1.2h0m.1,.8h0m.1-4.9h0m.1,4.9h0m.1-2.0h0m.1,2.2h0m.1-2.7h0m.1-.6h0m.1,1.2h0m.1,1.4h0m.1-1.6h0m.1-3.3h0m.1,4.1h0m.1-3.2h0m.1,.8h0m.1-.3h0m.1-.9h0m.1,.7h0m.1,.3h0m.1,.4h0m.1,.7h0m.2-.4h0m.1-1.6h0m.1,1.7h0m.1,1.5h0m.1-.1h0m.1-1.2h0m.1,.6h0m.1,.3h0m.1,.6h0m.1,.4h0m.1-2.8h0m.1,0h0m.1,2.3h0m.1,.1h0m.1-.1h0m.1-5.3h0m.1,2.8h0m.1-4.1h0m.1,5.3h0m.1-1.0h0m.1-.1h0m.1-.3h0m.1,1.9h0m.1-2.2h0m.1,1.7h0m.1-.7h0m.1-.3h0m.1,.1h0m.1-.6h0m.1-1.6h0m.1,2.3h0m.1,0h0m.1-1.2h0m.1,1.1h0m.1,.1h0m.1-3.0h0m.1,1.5h0m.1-.5h0m.1-.6h0m.2,1.6h0m.1-1.7h0m.1,.5h0m.1,.9h0m.1,0h0m.1-.1h0m.1,2.6h0m.1-3.8h0m.1,1.0h0m.1-2.1h0m.1,2.2h0m.1,.9h0m.1,0h0m.1-2.5h0m.1,.4h0m.1,2.0h0m.1-1.9h0m.1,1.4h0m.1-2.7h0m.1,3.1h0m.1-.5h0m.1-.9h0m.1-1.7h0m.1,.8h0m.1,.3h0m.1,.1h0m.1-.6h0m.1-.2h0m.1,.5h0m.1,1.6h0m.1-4.7h0m.1,.8h0m.1-.3h0m.1,1.1h0m.1-1.5h0m.1,3.1h0m.1-.7h0m.1-.6h0m.1-.6h0m.2,1.1h0m.1-.1h0m.1,.2h0m.1-1.5h0m.1,1.8h0m.1-2.9h0m.1,3.6h0m.1-5.9h0m.1,3.2h0m.1-.8h0m.1,2.6h0m.1-3.1h0m.1,4.4h0m.1-4.7h0m.1,4.8h0m.1-2.2h0m.1-.6h0m.1,.5h0m.1,2.3h0m.1-1.8h0m.1-4.3h0m.1,4.5h0m.1-1.3h0m.1-2.6h0m.1,3.2h0m.1-2.8h0m.1,1.8h0m.1,.1h0m.1-1.3h0m.1,1.7h0m.1-2.3h0m.1,1.5h0m.1-1.0h0m.1,.4h0m.1,2.8h0m.1-2.5h0m.1-1.7h0m.1,1.3h0m.1-1.0h0m.1,1.0h0m.2,.1h0m.1-.1h0m.1-.1h0m.1-.9h0m.1,1.3h0m.1,.7h0m.1-2.3h0m.1,.7h0m.1,.1h0m.1,1.6h0m.1-.3h0m.1-2.6h0m.1,1.1h0m.1-2.2h0m.1,.6h0m.1,1.3h0m.1,.8h0m.1,.3h0m.1-1.7h0m.1-1.5h0m.1,2.3h0m.1-.8h0m.1,.7h0m.1-.4h0m.1,.7h0m.1-.2h0m.1,.2h0m.1-1.8h0m.1,1.9h0m.1-2.1h0m.1,.7h0m.1,2.4h0m.1-2.1h0m.1-2.1h0m.1,3.5h0m.1-.8h0m.1,.2h0m.1-1.4h0m.1,.2h0m.2-.9h0m.1-.7h0m.1,3.0h0m.1-2.7h0m.1-.2h0m.1,0h0m.1,3.0h0m.1-1.4h0m.1-1.7h0m.1,.4h0m.1,.6h0m.1,.5h0m.1-3.5h0m.1,3.4h0m.1-1.6h0m.1-.7h0m.1,.3h0m.1,1.5h0m.1,1.3h0m.1-2.3h0m.1,.5h0m.1-1.9h0m.1,1.7h0m.1,.3h0m.1-3.2h0m.1,1.3h0m.1,1.7h0m.1-3.6h0m.1,1.8h0m.1,1.3h0m.1-3.2h0m.1,1.7h0m.1,.5h0m.1,1.1h0m.1-3.0h0m.1,3.1h0m.1-1.2h0m.1,1.2h0m.1-.2h0m.1-1.2h0m.2,.2h0m.1-3.1h0m.1,.4h0m.1,.4h0m.1,.8h0m.1,1.7h0m.1-3.8h0m.1,1.9h0m.1-1.4h0m.1-.4h0m.1,4.0h0m.1-1.9h0m.1,2.0h0m.1-.7h0m.1-2.9h0m.1-1.4h0m.1,5.3h0m.1-3.5h0m.1-1.0h0m.1,2.4h0m.1-.9h0m.1-1.1h0m.1,.3h0m.1,.7h0m.1-.2h0m.1,.8h0m.1-1.6h0m.1,0h0m.1,1.2h0m.1-.5h0m.1,1.0h0m.1-1.9h0m.1,.1h0m.1-1.5h0m.1,3.5h0m.1-3.9h0m.1,2.1h0m.1-1.6h0m.1,1.6h0m.2,.5h0m.1-3.3h0m.1,1.8h0m.1-2.1h0m.1,4.2h0m.1-2.6h0m.1-1.6h0m.1,1.1h0m.1,2.6h0m.1,.2h0m.1-.4h0m.1-2.8h0m.1,.8h0m.1,2.3h0m.1-3.3h0m.1,.5h0m.1-.9h0m.1-.4h0m.1,3.2h0m.1-.9h0m.1-.3h0m.1,.1h0m.1,.5h0m.1,.6h0m.1-2.1h0m.1-.5h0m.1-1.0h0m.1,2.7h0m.1-2.2h0m.1-1.4h0m.1,1.6h0m.1,.3h0m.1,1.1h0m.1,.1h0m.1-2.4h0m.1-.2h0m.1,.6h0m.1-1.3h0m.1,1.4h0m.1,.7h0m.2-.6h0m.1-2.3h0m.1,.5h0m.1,3.3h0m.1-3.2h0m.1,2.3h0m.1-.2h0m.1-1.4h0m.1-1.0h0m.1,1.6h0m.1-1.6h0m.1,.9h0m.1,.3h0m.1-1.1h0m.1,.6h0m.1-.2h0m.1-1.3h0m.1,1.3h0m.1-.7h0m.1-1.7h0m.1,2.0h0m.1,0h0m.1-.5h0m.1-2.1h0m.1,3.8h0m.1-.2h0m.1-.1h0m.1-.5h0m.1-2.2h0m.1,1.8h0m.1-1.5h0m.1,4.1h0m.1-3.7h0m.1,1.5h0m.1-3.0h0m.1,.4h0m.1,.8h0m.1,1.6h0m.1-.3h0m.2-.4h0m.1-2.9h0m.1,3.9h0m.1-2.8h0m.1,3.3h0m.1,.3h0m.1-1.5h0m.1,.2h0m.1-3.1h0m.1,5.1h0m.1-3.2h0m.1,.9h0m.1-2.5h0m.1,1.0h0m.1-1.6h0m.1,1.2h0m.1,.3h0m.1,.2h0m.1,1.5h0m.1-1.3h0m.1-.4h0m.1-.3h0m.1,2.6h0m.1-3.6h0m.1,2.3h0m.1-4.3h0m.1,1.4h0m.1,1.7h0m.1-.9h0m.1,4.3h0m.1-.7h0m.1-5.6h0m.1,.6h0m.1,1.1h0m.1,2.5h0m.1-.9h0m.1-1.1h0m.1-2.4h0m.1,.7h0m.2-2.6h0m.1,1.5h0m.1,2.6h0m.1,.4h0m.1-2.9h0m.1,1.9h0m.1,2.0h0m.1-2.1h0m.1-.7h0m.1,1.2h0m.1-.2h0m.1-.7h0m.1-.9h0m.1,.1h0m.1,.7h0m.1-1.0h0m.1,2.5h0m.1-.6h0m.1,.1h0m.1,1.3h0m.1-.7h0m.1-.3h0m.1-1.5h0m.1-.8h0m.1,3.3h0m.1-4.1h0m.1,0h0m.1-.4h0m.1,1.4h0m.1,.2h0m.1,.8h0m.1-1.8h0m.1-2.1h0m.1,2.7h0m.1,.9h0m.1-1.4h0m.1-.3h0m.1,.9h0m.1,1.1h0m.1-2.1h0m.2-1.9h0m.1,1.1h0m.1,.5h0m.1-2.3h0m.1,3.4h0m.1-2.1h0m.1,1.6h0m.1-.4h0m.1-.8h0m.1,2.6h0m.1-3.1h0m.1-.2h0m.1,1.3h0m.1,.6h0m.1-1.2h0m.1-1.4h0m.1,2.2h0m.1-.2h0m.1,2.0h0m.1-3.2h0" fill="none" stroke="#000" stroke-width="2.9" stroke-linecap="round"/>
<path d="M556.5,95.2 L557.6,93.0 L558.6,91.0" fill="none" stroke="#000" stroke-width="3.4" stroke-linecap="round" stroke-linejoin="round"/>
<path d="M559.5,89.6 L559.7,87.4" fill="none" stroke="#000" stroke-width="5.0" stroke-linecap="round" stroke-linejoin="round"/>
<path d="M482.5,128.5 L482.8,128.7 L483.1,128.8 L483.4,129.0 L483.7,129.2 L484.1,129.4 L484.4,129.5 L484.7,129.7 L485.1,129.8 L485.6,129.9 L486.1,130.1 L486.7,130.2 L487.2,130.3 L487.8,130.4 L488.4,130.5 L488.9,130.5 L489.5,130.6 L490.0,130.7 L490.6,130.7 L491.1,130.7 L491.7,130.7 L492.3,130.8 L492.8,130.8 L493.4,130.7 L493.9,130.7 L494.4,130.7 L495.0,130.6 L495.5,130.5 L496.0,130.4 L496.6,130.3 L497.1,130.2 L497.7,130.1 L498.3,129.9 L499.3,129.6 L500.3,129.3 L501.4,128.9 L502.5,128.5 L503.6,128.1 L504.8,127.6 L505.9,127.2 L507.0,126.7 L508.1,126.2 L509.2,125.6 L510.3,125.1 L511.4,124.5 L512.5,123.9 L513.6,123.2 L514.7,122.6 L515.8,122.0 L516.9,121.4 L518.0,120.7 L519.1,120.0 L520.2,119.4 L521.3,118.7 L522.4,118.0 L523.5,117.3 L524.5,116.7 L525.4,116.1 L526.3,115.6 L527.2,115.0 L528.1,114.5 L529.0,113.9 L529.8,113.4 L530.7,112.8 L531.5,112.3 L532.2,111.8 L532.9,111.3 L533.5,110.8 L534.2,110.3 L534.8,109.9 L535.5,109.4 L536.2,108.8 L536.9,108.3 L537.9,107.6 L538.9,106.9 L540.0,106.1 L541.0,105.3 L542.2,104.6 L543.3,103.8 L544.4,103.0 L545.6,102.2 L546.9,101.3 L548.2,100.5 L549.6,99.6 L551.0,98.7 L552.4,97.8 L553.7,97.0 L555.1,96.1 L556.5,95.2" fill="none" stroke="#f00" stroke-width="2.0" stroke-linecap="butt" stroke-linejoin="round"/>
<path d="M562.6,60.4 L562.6,60.7 L562.7,61.0 L562.7,61.4 L562.7,61.7 L562.8,62.0 L562.8,62.3 L562.9,62.7 L562.9,63.0 L563.0,63.4 L563.0,63.8 L563.1,64.2 L563.1,64.6 L563.2,64.9 L563.3,65.3 L563.4,65.7 L563.5,66.0 L563.6,66.3 L563.8,66.5 L564.0,66.7 L564.2,66.9 L564.4,67.2 L564.6,67.4 L564.8,67.6 L565.0,67.8" fill="none" stroke="#000" stroke-width="3.6" stroke-linecap="round" stroke-linejoin="round"/>
<path d="M562.6,60.7h0m.1-.1h0m.1-.3h0m.1,2.8h0m.1,1.9h0m.1-1.8h0m.1,1.0h0m.1-.3h0m.1,3.7h0m.1-2.4h0m.1,1.8h0m.1-1.7h0m.1,1.4h0m.1-.8h0m.1-2.2h0m.1,3.4h0m.1,.8h0m.1-3.5h0m.1,2.7h0m.1-.2h0m.1-.8h0m.1,1.2h0m.1-2.2h0m.2,3.0h0m.1,1.3h0m.1-3.2h0m.1,1.6h0m.1,2.1h0m.1-1.7h0m.1-.8h0m.1-.5h0m.1,1.5h0m.1-.4h0m.1,1.0h0m.1-2.9h0m.1,3.6h0m.1-2.0h0m.1,1.4h0m.1-1.8h0m.1-.8h0m.1,1.0h0m.1-.5h0m.1,.8h0m.1,1.4h0m.1,.6h0m.1-1.2h0m.1-1.0h0m.1,.2h0m.1,1.4h0m.1,.7h0m.1-1.9h0m.1,.3h0m.1-.8h0m.1,1.3h0m.1,1.0h0m.1-5.2h0m.1,4.3h0m.1-1.1h0m.1-2.4h0m.1,3.6h0m.1-.5h0m.1,.7h0m.1-2.4h0m.1,4.8h0m.1-2.7h0m.1-.6h0m.1,2.5h0m.2-1.1h0m.1,.2h0m.1,.5h0m.1-4.3h0m.1,5.0h0m.1-2.7h0m.1,.9h0m.1,.9h0m.1-2.2h0m.1,1.4h0m.1,.6h0m.1-1.0h0m.1,.7h0m.1-2.8h0m.1,.6h0m.1,.1h0m.1,2.0h0m.1,4.6h0m.1-4.7h0m.1-.5h0m.1,.1h0m.1,1.4h0m.1-.3h0m.1-2.5h0m.1,2.9h0m.1-1.4h0m.1,1.2h0m.1-3.8h0m.1,.6h0m.1,2.9h0m.1-3.2h0m.1,2.9h0m.1,0h0m.1-.3h0m.1,.3h0m.1-.1h0m.1,.2h0m.1-1.1h0m.1,.5h0m.1,4.0h0m.1-2.5h0m.1-.7h0m.1-.3h0m.1-1.5h0m.2,1.3h0m.1-.6h0m.1,1.6h0m.1-2.6h0m.1-1.9h0m.1,2.4h0m.1,1.7h0m.1,2.4h0m.1-2.0h0m.1-2.7h0m.1,1.0h0m.1-1.0h0m.1,1.1h0m.1-1.0h0m.1-1.0h0m.1,2.8h0m.1-.4h0m.1-.5h0m.1,.7h0m.1,2.3h0m.1-2.6h0m.1-.7h0m.1,1.6h0m.1-3.4h0m.1,3.3h0m.1-2.1h0m.1-.1h0m.1,1.2h0m.1,2.1h0m.1-3.2h0m.1,2.2h0m.1-.8h0m.1-2.4h0m.1,3.1h0m.1-2.3h0m.1-.9h0m.1,.9h0m.1,0h0m.1,1.8h0m.1-1.8h0m.1,3.0h0m.1-1.8h0m.1-1.3h0m.1-.2h0m.2,1.4h0m.1-3.0h0m.1-.3h0m.1,1.8h0m.1,2.0h0m.1-.7h0m.1-.2h0m.1-.3h0m.1-2.7h0m.1,2.5h0m.1-2.0h0m.1,3.5h0m.1-1.2h0m.1-.2h0m.1,.7h0m.1-.2h0m.1-.1h0m.1,.1h0m.1-1.3h0m.1-1.0h0m.1,2.2h0m.1,1.5h0m.1-.6h0m.1-1.7h0m.1,1.0h0m.1-1.4h0m.1,1.1h0m.1-1.4h0m.1,1.0h0m.1,2.5h0m.1-1.7h0m.1,.9h0m.1-3.1h0m.1,.1h0m.1,.8h0m.1,.8h0m.1-1.0h0m.1,1.6h0m.1-2.2h0m.1,2.6h0m.1-.6h0m.1-2.8h0m.1,2.2h0m.1-1.1h0m.2,1.6h0m.1-2.1h0m.1,1.1h0m.1,.3h0m.1-4.5h0m.1,1.2h0m.1,2.6h0m.1-.3h0m.1,1.5h0m.1-1.1h0m.1-2.1h0m.1,2.1h0m.1-1.4h0m.1,.6h0m.1-.4h0m.1,1.1h0m.1-2.4h0m.1,.4h0m.1-1.5h0m.1,5.8h0m.1-4.3h0m.1,.2h0m.1-.4h0m.1,.6h0m.1,.3h0m.1,1.3h0m.1-.6h0m.1,.2h0m.1-1.3h0m.1,.7h0m.1,1.7h0m.1-1.7h0m.1,.4h0m.1-3.2h0m.1,3.4h0m.1-.4h0m.1,1.3h0m.1-5.4h0m.1,3.7h0m.1-.3h0m.1,.3h0m.1-1.0h0m.1,1.1h0m.1,.6h0m.2-1.0h0m.1-.4h0m.1,0h0m.1-.3h0m.1,.6h0m.1-1.1h0m.1-1.7h0m.1,4.4h0m.1-4.2h0m.1,2.2h0m.1-1.7h0m.1,1.4h0m.1-1.0h0m.1,1.2h0m.1-1.1h0m.1-.7h0m.1,2.2h0m.1,1.3h0m.1-1.4h0m.1-.3h0m.1-1.7h0m.1,1.3h0m.1,.7h0m.1-1.5h0m.1,2.0h0m.1-1.3h0m.1,.5h0m.1-1.2h0m.1,0h0m.1,.9h0m.1,.1h0m.1-.1h0m.1-1.8h0m.1,.3h0m.1,.9h0m.1-2.5h0m.1,3.9h0m.1-1.1h0m.1-.4h0m.1-1.1h0m.1,2.1h0m.1-1.6h0m.1,2.9h0m.1-2.0h0m.2-2.6h0m.1,2.9h0m.1-1.7h0m.1-.1h0m.1,.4h0m.1,.1h0m.1,.4h0m.1,.7h0m.1-.5h0m.1-1.6h0m.1-.9h0m.1,.7h0m.1,1.5h0m.1,.6h0m.1,1.2h0m.1-4.3h0m.1,1.9h0m.1-.5h0m.1-.2h0m.1,.6h0m.1-.5h0m.1-.1h0m.1-.6h0m.1,1.4h0m.1,.8h0m.1,.8h0m.1-3.0h0m.1-.8h0m.1,1.0h0m.1-.8h0m.1,2.5h0m.1-2.6h0m.1,1.2h0m.1-2.0h0m.1,1.3h0m.1,.7h0m.1,1.8h0m.1-3.1h0m.1,1.4h0m.1-3.4h0m.1,1.2h0m.1,.4h0m.1,.4h0m.1,1.2h0m.2,.2h0m.1-3.1h0m.1,2.9h0m.1-2.3h0m.1,3.9h0m.1-2.1h0m.1-.2h0m.1-.5h0m.1,.1h0m.1,0h0m.1-1.0h0m.1,1.9h0m.1-.7h0m.1,.6h0m.1-1.2h0m.1,1.0h0m.1-2.0h0m.1,5.8h0m.1-5.9h0m.1,.3h0m.1,1.9h0m.1,.3h0m.1-2.8h0m.1-1.2h0m.1,.3h0m.1,.5h0m.1,.2h0m.1,.8h0m.1,1.5h0m.1,0h0m.1-2.3h0m.1,1.5h0m.1,.4h0m.1,.6h0m.1-2.1h0m.1-.9h0m.1,2.0h0m.1,1.0h0m.1-2.9h0m.1,3.3h0m.1-.3h0m.1-2.8h0m.1-1.8h0m.1,1.2h0m.2,.3h0m.1,1.2h0m.1-3.1h0m.1,5.5h0m.1-.2h0m.1-4.2h0m.1-1.6h0m.1,2.2h0m.1,.8h0m.1,1.2h0m.1-.9h0m.1-1.3h0m.1-2.5h0m.1,3.3h0m.1,.4h0m.1-1.6h0m.1,.7h0m.1-.2h0m.1-.6h0m.1-1.3h0m.1,1.9h0m.1-2.4h0m.1,3.7h0m.1-3.1h0m.1,1.8h0m.1-1.7h0m.1,1.4h0m.1-.9h0m.1,1.0h0m.1-1.9h0m.1-1.2h0m.1,1.8h0m.1-.2h0m.1-1.6h0m.1,1.1h0m.1-1.4h0m.1,2.3h0m.1-.7h0m.1,.4h0m.1,3.5h0m.1-3.4h0m.1,.2h0m.1,.3h0m.1-1.1h0m.2-.7h0m.1,2.0h0m.1,.1h0m.1-5.4h0m.1,3.7h0m.1-.4h0m.1-.3h0m.1,2.4h0m.1-2.5h0m.1,1.8h0m.1-2.0h0m.1,.2h0m.1,1.4h0m.1-2.0h0m.1,.7h0m.1-1.4h0m.1,.3h0m.1,2.1h0m.1-.3h0m.1-2.4h0m.1-.1h0m.1,5.0h0m.1-4.4h0m.1-.4h0m.1,1.8h0m.1-1.8h0m.1,.5h0m.1,1.6h0m.1,.1h0m.1-1.7h0m.1,2.0h0m.1-2.1h0m.1-.2h0m.1,.3h0m.1-.5h0m.1,1.0h0m.1-.4h0m.1-1.5h0m.1,1.2h0m.1-1.0h0m.1-.1h0m.1,.5h0m.1,1.5h0m.1-1.1h0m.2,1.3h0m.1,.3h0m.1-2.3h0m.1-.8h0m.1-.3h0m.1,1.3h0m.1,.7h0m.1,.9h0m.1-3.9h0m.1,2.9h0m.1,.1h0m.1,1.8h0m.1-3.1h0m.1-.4h0m.1-2.1h0m.1,.9h0m.1-.5h0m.1,.1h0m.1,0h0m.1-.9h0m.1,1.9h0m.1,.5h0m.1,.5h0m.1-1.3h0m.1,1.5h0m.1,0h0m.1-3.6h0m.1,1.6h0m.1-1.4h0m.1,.3h0m.1,1.5h0m.1-.5h0m.1,2.1h0m.1,.7h0m.1-2.3h0m.1-.9h0m.1,0h0m.1,.1h0m.1,.7h0m.1-1.8h0m.1,1.7h0m.1-1.2h0m.1,1.7h0m.1,.3h0m.2,.5h0m.1-2.7h0m.1-1.6h0m.1-.6h0m.1,1.9h0m.1-1.6h0m.1-.4h0m.1,1.7h0m.1-1.0h0m.1,2.2h0m.1,1.7h0m.1-3.0h0m.1,.6h0m.1-2.6h0m.1,2.3h0m.1-1.2h0m.1-.6h0m.1-1.1h0m.1,4.6h0m.1-4.4h0m.1,.5h0m.1,1.6h0m.1,.3h0m.1-.1h0m.1-.3h0m.1-1.4h0m.1,2.2h0m.1-.8h0m.1-2.3h0m.1,4.0h0m.1-2.6h0m.1,1.7h0m.1-3.4h0m.1,.4h0m.1,.7h0m.1-.2h0m.1,2.3h0m.1-3.7h0m.1,2.4h0m.1-1.6h0m.1,2.0h0m.1-.5h0m.1-1.1h0m.1,3.7h0m.2-3.1h0m.1,1.5h0m.1-3.4h0m.1,1.6h0m.1,.2h0m.1,.1h0m.1-.8h0m.1-.7h0m.1-3.1h0m.1,3.4h0m.1-.5h0m.1,.8h0m.1,1.4h0m.1,1.8h0m.1-2.3h0m.1,.6h0m.1-.6h0m.1,.1h0m.1-.2h0m.1-1.2h0m.1-.2h0m.1,.9h0m.1,1.9h0m.1-1.4h0m.1,1.0h0m.1-4.0h0m.1,2.1h0m.1,.1h0m.1,.1h0m.1-2.6h0m.1-.7h0m.1-.4h0m.1,2.3h0m.1,3.6h0m.1-2.9h0m.1-2.0h0m.1,2.0h0m.1-.9h0m.1,.6h0m.1-.9h0m.1-1.2h0m.1,1.0h0m.1,1.6h0m.1-.6h0m.2,1.2h0m.1-3.2h0m.1,2.8h0m.1-1.4h0m.1,.1h0m.1,1.4h0m.1-1.9h0m.1,.4h0m.1,.5h0m.1-.1h0m.1,.2h0m.1,.6h0m.1-1.1h0m.1-1.4h0m.1,3.9h0m.1-3.4h0m.1,.4h0m.1-1.5h0m.1-2.0h0m.1,1.8h0m.1,1.1h0m.1,.5h0m.1-.7h0m.1,.9h0m.1,.2h0m.1,0h0m.1-1.4h0m.1,0h0m.1-.5h0m.1-.9h0m.1,3.0h0m.1-3.7h0m.1,1.6h0m.1,.3h0m.1-3.3h0m.1,3.8h0m.1-1.5h0m.1,.7h0m.1-.8h0m.1-1.7h0m.1,2.2h0m.1-.2h0m.1,1.2h0m.1-.8h0m.2-3.0h0m.1,3.7h0m.1-.5h0m.1-.1h0m.1-.4h0m.1-1.7h0m.1,1.6h0m.1-1.3h0m.1,4.3h0m.1-4.3h0m.1-1.2h0m.1,.9h0m.1,2.4h0m.1-2.8h0m.1-2.6h0m.1,5.2h0m.1-1.6h0m.1-1.2h0m.1,1.6h0m.1-2.3h0m.1-.4h0m.1,2.8h0m.1-2.1h0m.1,1.4h0m.1-.8h0m.1,1.0h0m.1-1.0h0m.1-3.0h0m.1,3.6h0m.1-1.6h0m.1,1.7h0m.1-1.1h0m.1,1.7h0m.1-2.4h0m.1-2.4h0m.1,2.3h0m.1,1.0h0m.1-1.2h0m.1-.2h0m.1,2.5h0m.1-2.2h0m.1,1.5h0m.1-1.3h0m.1-2.2h0m.2,.6h0m.1,.8h0m.1,.8h0m.1-1.6h0m.1-.9h0m.1,.5h0m.1,.6h0m.1-.5h0m.1,.3h0m.1,3.2h0m.1-2.1h0m.1-1.6h0m.1,1.0h0m.1,2.1h0m.1-1.3h0m.1-1.1h0m.1-1.7h0m.1-.5h0m.1,1.7h0m.1,.3h0m.1-2.1h0m.1,.3h0m.1,1.7h0m.1-3.0h0m.1,.6h0m.1,2.2h0m.1,.8h0m.1-.4h0m.1,.9h0m.1,.7h0m.1-.9h0m.1-1.7h0m.1,3.2h0m.1-.6h0m.1-1.1h0m.1-2.4h0m.1,1.6h0m.1-3.5h0m.1,2.4h0m.1-3.0h0m.1,2.8h0m.1,1.9h0m.1-1.5h0m.1,2.2h0m.2-2.3h0m.1,.1h0m.1-.6h0m.1,1.1h0m.1-.8h0m.1,1.6h0m.1,.5h0m.1-1.7h0m.1-2.1h0m.1,2.2h0m.1,1.0h0m.1-1.0h0m.1-.5h0m.1,.8h0m.1,.5h0m.1-5.4h0m.1,5.6h0m.1-1.1h0m.1-.5h0m.1-1.4h0m.1,1.0h0m.1,.5h0m.1-2.9h0" fill="none" stroke="#000" stroke-width="2.9" stroke-linecap="round"/>
<path d="M639.2,34.0 L640.6,31.6 L641.5,29.4" fill="none" stroke="#000" stroke-width="4.2" stroke-linecap="round" stroke-linejoin="round"/>
<path d="M641.7,28.6 L642.0,26.2" fill="none" stroke="#000" stroke-width="5.2" stroke-linecap="round" stroke-linejoin="round"/>
<path d="M397.4,381.4 L397.4,382.1 L397.4,382.8 L397.4,383.5 L397.4,384.2 L397.4,384.9 L397.5,385.6 L397.5,386.3 L397.5,387.0 L397.5,387.7 L397.6,388.5 L397.6,389.3 L397.6,390.1 L397.7,390.8 L397.7,391.6 L397.8,392.3 L397.9,393.0 L398.0,393.6 L398.1,394.1 L398.1,394.7 L398.2,395.3 L398.3,395.8 L398.5,396.3 L398.6,396.8 L398.8,397.2 L399.0,397.5 L399.2,397.8 L399.4,398.0 L399.6,398.3 L399.9,398.5 L400.1,398.7 L400.4,399.0 L400.6,399.2" fill="none" stroke="#000" stroke-width="2.7" stroke-linecap="round" stroke-linejoin="round"/>
<path d="M397.4,382.5h0m.1,4.7h0m.1,4.3h0m.1,.6h0m.1,0h0m.1,1.2h0m.1,1.5h0m.1,.1h0m.1,1.2h0m.1-1.2h0m.1-.3h0m.1,1.2h0m.1-.8h0m.1,1.1h0m.1,1.7h0m.1-2.5h0m.1,.8h0m.1,2.8h0m.2-1.6h0m.1,.9h0m.1-1.6h0m.1,.4h0m.1,1.1h0m.1,2.8h0m.1-1.5h0m.1-2.8h0m.1,3.0h0m.1,.7h0m.1-.3h0m.1-2.5h0m.1,1.6h0m.1,3.0h0m.1-4.0h0m.1,1.7h0m.1-1.4h0m.1-.7h0m.1,1.1h0m.1,2.0h0m.1,.2h0m.1-2.8h0m.1,.6h0m.1-.6h0m.1-1.6h0m.1,3.6h0m.1,1.3h0m.1-.1h0m.1-2.6h0m.1,2.4h0m.1-.3h0m.1-2.0h0m.1,.5h0m.1-.5h0m.1,.8h0m.1,2.1h0m.2-3.7h0m.1-.3h0m.1,2.8h0m.1-1.1h0m.1-2.6h0m.1,1.2h0m.1,.2h0m.1,.4h0m.1,1.2h0m.1,1.0h0m.1-1.6h0m.1,.5h0m.1-1.2h0m.1,2.4h0m.1,.4h0m.1-2.1h0m.1-.6h0m.1,3.8h0m.1-1.5h0m.1-2.5h0m.1-1.0h0m.1,1.9h0m.1,2.0h0m.1-2.3h0m.1,.4h0m.1-.3h0m.1,1.6h0m.1,1.0h0m.1-3.6h0m.1,1.4h0m.1,.1h0m.1-.5h0m.1-.8h0m.1,2.8h0m.1-.9h0m.1,.8h0m.2,1.1h0m.1-2.6h0m.1,1.3h0m.1-1.3h0m.1,.4h0m.1,.6h0m.1-.6h0m.1-1.8h0m.1,4.1h0m.1-1.9h0m.1-1.7h0m.1-1.4h0m.1,2.9h0m.1,.9h0m.1,.5h0m.1,.2h0m.1-2.0h0m.1,1.3h0m.1-2.9h0m.1,2.3h0m.1,1.0h0m.1-2.0h0m.1,.6h0m.1,.3h0m.1,.1h0m.1,1.8h0m.1-3.5h0m.1,3.3h0m.1-3.5h0m.1,.8h0m.1-.2h0m.1,1.0h0m.1-.6h0m.1,1.3h0m.1-.6h0m.2,2.9h0m.1-2.4h0m.1-.9h0m.1,.9h0m.1,.2h0m.1-1.0h0m.1-1.3h0m.1,.4h0m.1,1.4h0m.1,.8h0m.1-.5h0m.1-.7h0m.1,.8h0m.1-1.4h0m.1,1.0h0m.1,1.6h0m.1-.5h0m.1,.4h0m.1-2.4h0m.1,.8h0m.1-1.7h0m.1,2.6h0m.1-1.8h0m.1-1.2h0m.1,1.1h0m.1,.9h0m.1-3.3h0m.1,1.1h0m.1,3.2h0m.1-1.2h0m.1-.2h0m.1-2.2h0m.1,4.3h0m.1-.8h0m.1-.4h0m.1-2.5h0m.2,2.3h0m.1,.7h0m.1-2.0h0m.1,.1h0m.1-.3h0m.1,1.4h0m.1-1.2h0m.1-.1h0m.1-1.6h0m.1-.3h0m.1,3.5h0m.1,.9h0m.1-1.0h0m.1,.7h0m.1-2.7h0m.1,.7h0m.1,.5h0m.1-.8h0m.1,2.5h0m.1-4.1h0m.1,1.0h0m.1,.3h0m.1-.5h0m.1,2.0h0m.1-3.8h0m.1,4.2h0m.1-.4h0m.1-.8h0m.1,1.4h0m.1,1.3h0m.1-2.9h0m.1,.7h0m.1-.5h0m.1,.1h0m.1-1.4h0m.1-.3h0m.2,1.8h0m.1-1.6h0m.1,1.9h0m.1-.2h0m.1-1.7h0m.1,1.1h0m.1-.4h0m.1-.3h0m.1,1.6h0m.1-1.5h0m.1,.3h0m.1-3.0h0m.1,3.4h0m.1-2.8h0m.1,1.4h0m.1,2.7h0m.1,.2h0m.1-3.0h0m.1-1.2h0m.1,2.2h0m.1-1.1h0m.1,1.0h0m.1-2.3h0m.1,3.2h0m.1,.6h0m.1-4.1h0m.1,.9h0m.1,.1h0m.1,1.9h0m.1-3.7h0m.1,2.9h0m.1-.6h0m.1-.8h0m.1,2.0h0m.1-3.7h0m.2,.8h0m.1,.7h0m.1,2.0h0m.1-1.4h0m.1-.7h0m.1,1.7h0m.1-1.3h0m.1-.3h0m.1,.5h0m.1,.8h0m.1,3.1h0m.1-5.1h0m.1,1.8h0m.1-.6h0m.1-.2h0m.1,2.4h0m.1-1.1h0m.1-.2h0m.1-1.5h0m.1-.6h0m.1,1.5h0m.1-.8h0m.1-.4h0m.1,1.6h0m.1-2.5h0m.1,.6h0m.1,2.0h0m.1-1.2h0m.1,.9h0m.1-2.1h0m.1,2.1h0m.1-2.0h0m.1,2.8h0m.1-.8h0m.1-.5h0m.1,1.4h0m.2-1.6h0m.1-1.4h0m.1,2.9h0m.1-1.7h0m.1,1.2h0m.1-1.5h0m.1,1.3h0m.1-2.8h0m.1-.5h0m.1-.3h0m.1,2.9h0m.1-3.7h0m.1,.2h0m.1,.4h0m.1,2.2h0m.1,.2h0m.1-1.7h0m.1,2.1h0m.1-.7h0m.1,1.2h0m.1-.4h0m.1-2.3h0m.1,1.2h0m.1-.5h0m.1,.8h0m.1-.4h0m.1-.3h0m.1,.8h0m.1-.9h0m.1,.9h0m.1-1.0h0m.1-.3h0m.1,1.4h0m.1,0h0m.1,.3h0m.1-.9h0m.2-1.2h0m.1,.5h0m.1-.1h0m.1-2.6h0m.1,.8h0m.1,3.5h0m.1-2.2h0m.1-3.8h0m.1,3.7h0m.1,.3h0m.1-1.9h0m.1,4.6h0m.1-1.6h0m.1-.5h0m.1-1.4h0m.1,.9h0m.1,.4h0m.1-.5h0m.1-1.6h0m.1,1.1h0m.1-.2h0m.1,.2h0m.1-1.8h0m.1,1.7h0m.1-.4h0m.1,.2h0m.1-.1h0m.1-2.3h0m.1,3.1h0m.1-.2h0m.1-2.9h0m.1,1.6h0m.1-1.1h0m.1,.5h0m.1,1.9h0m.2-.7h0m.1,1.9h0m.1-2.6h0m.1-1.7h0m.1,1.6h0m.1-3.5h0m.1,5.7h0m.1-2.1h0m.1,.2h0m.1-.5h0m.1-1.4h0m.1,.9h0m.1-.9h0m.1,.3h0m.1,1.0h0m.1-2.1h0m.1,3.8h0m.1-3.7h0m.1,2.5h0m.1-2.1h0m.1-.8h0m.1,2.1h0m.1-.4h0m.1-.6h0m.1,.2h0m.1-.8h0m.1,1.3h0m.1-1.2h0m.1,.6h0m.1,1.4h0m.1-3.4h0m.1,1.0h0m.1-.2h0m.1-.2h0m.1-.8h0m.1,1.4h0m.2,.5h0m.1-.4h0m.1-2.1h0m.1,3.0h0m.1,0h0m.1-.9h0m.1-1.5h0m.1,.1h0m.1,3.7h0m.1-.4h0m.1-1.7h0m.1-1.9h0m.1,2.8h0m.1-1.5h0m.1,2.0h0m.1-3.1h0m.1,1.3h0m.1-.9h0m.1,1.2h0m.1-1.9h0m.1,2.0h0m.1-1.8h0m.1-.7h0m.1,1.9h0m.1-.5h0m.1-3.2h0m.1,2.7h0m.1,.1h0m.1,.1h0m.1,2.4h0m.1-3.7h0m.1,.8h0m.1-2.3h0m.1,.3h0m.1,1.1h0m.1,.5h0m.2-.1h0m.1,1.0h0m.1,.1h0m.1,.3h0m.1-1.6h0m.1,.8h0m.1-1.7h0m.1,1.4h0m.1,.1h0m.1-1.4h0m.1-3.7h0m.1,3.4h0m.1,4.3h0m.1-3.7h0m.1-.8h0m.1,.9h0m.1,1.3h0m.1-1.1h0m.1-.8h0m.1-1.5h0m.1,1.3h0m.1-1.3h0m.1,2.0h0m.1,1.5h0m.1-.6h0m.1-2.3h0m.1-.6h0m.1-.6h0m.1,2.4h0m.1,.1h0m.1,.2h0m.1-.7h0m.1-2.1h0m.1-1.0h0m.1,4.0h0m.2-2.7h0m.1,3.6h0m.1-5.5h0m.1,1.3h0m.1,.2h0m.1,1.5h0m.1,.5h0m.1-1.7h0m.1,1.5h0m.1-2.7h0m.1,1.1h0m.1-1.1h0m.1,.8h0m.1-.1h0m.1,1.2h0m.1,4.1h0m.1-6.5h0m.1,1.5h0m.1,1.1h0m.1-.9h0m.1,1.8h0m.1-3.4h0m.1,2.3h0m.1-2.1h0m.1,2.1h0m.1-1.0h0m.1,.1h0m.1-1.2h0m.1-1.8h0m.1,.9h0m.1,2.4h0m.1-1.4h0m.1,1.3h0m.1-2.9h0m.1,2.6h0m.1,.4h0m.2-4.4h0m.1,3.4h0m.1,2.1h0m.1-3.7h0m.1,2.3h0m.1-1.4h0m.1,1.0h0m.1-1.7h0m.1-.6h0m.1,.4h0m.1,0h0m.1-.4h0m.1-.4h0m.1,2.6h0m.1-2.4h0m.1-.9h0m.1,.3h0m.1,1.8h0m.1-3.7h0m.1,3.6h0m.1,.2h0m.1,.7h0m.1-2.4h0m.1-.6h0m.1,1.3h0m.1-.1h0m.1,1.5h0m.1-1.8h0m.1-.7h0m.1-1.3h0m.1,1.4h0m.1,.3h0m.1,1.4h0m.1-1.5h0m.1,1.6h0m.1-.3h0m.2-2.8h0m.1-.6h0m.1,.6h0m.1,.5h0m.1-.9h0m.1,2.0h0m.1-.2h0m.1,.7h0m.1-1.4h0m.1-1.0h0m.1,1.0h0m.1-1.8h0m.1,1.3h0m.1-1.3h0m.1,2.5h0m.1-5.3h0m.1,4.7h0m.1,0h0m.1-1.4h0m.1,.5h0m.1-.3h0m.1,1.4h0m.1,.4h0m.1-2.3h0m.1,2.1h0m.1-3.1h0m.1,1.3h0m.1,0h0m.1-2.4h0m.1,2.1h0m.1-1.5h0m.1,1.9h0m.1-2.3h0m.1-1.3h0m.1,.6h0m.2,1.7h0m.1,.3h0m.1-.1h0m.1-1.5h0m.1,2.0h0m.1-1.9h0m.1,.4h0m.1,1.5h0m.1-1.6h0m.1-2.4h0m.1,3.4h0m.1-1.0h0m.1-.6h0m.1,2.2h0m.1-2.7h0m.1,1.6h0m.1-.7h0m.1,3.2h0m.1-6.0h0m.1,2.6h0m.1,.1h0m.1,1.0h0m.1-2.1h0m.1-.4h0m.1,2.6h0m.1-2.5h0m.1,.9h0m.1-.5h0m.1,.5h0m.1-2.4h0m.1,1.0h0m.1,.6h0m.1,.1h0m.1,1.3h0m.1-.9h0m.1,0h0m.2-.9h0m.1,1.7h0m.1-2.6h0m.1,.6h0m.1-1.9h0m.1,.5h0m.1,2.5h0m.1-1.3h0m.1-2.5h0m.1,2.3h0m.1-.3h0m.1-1.3h0m.1,1.9h0m.1-.9h0m.1,.3h0m.1,1.2h0m.1-2.2h0m.1,2.2h0m.1-1.8h0m.1-.1h0m.1,2.0h0m.1-1.3h0m.1-1.1h0m.1,.3h0m.1,.4h0m.1-2.3h0m.1,2.7h0m.1-.9h0m.1-1.8h0m.1,.4h0m.1,2.3h0m.1-2.9h0m.1,4.5h0m.1-4.4h0m.1,1.7h0m.1-3.8h0m.2,3.3h0m.1-.7h0m.1,1.3h0m.1-.5h0m.1-.8h0m.1,3.3h0m.1-1.9h0m.1-2.1h0m.1,1.4h0m.1-4.4h0m.1,3.0h0m.1,2.4h0m.1-2.5h0m.1,.9h0m.1-1.8h0m.1,2.5h0m.1-1.0h0m.1-.2h0m.1,1.2h0m.1,.9h0m.1-1.2h0m.1-3.5h0m.1,2.8h0m.1-.2h0m.1-2.0h0m.1-.7h0m.1,1.6h0m.1,.1h0m.1,.2h0m.1-.9h0m.1,1.1h0m.1,.1h0m.1-.8h0m.1,.8h0m.1-1.3h0m.2-1.4h0m.1,2.0h0m.1,1.2h0m.1,2.4h0m.1-6.6h0m.1,2.1h0m.1-.5h0m.1,1.5h0m.1-1.7h0m.1,1.3h0m.1,1.1h0m.1-2.4h0m.1,.9h0m.1,2.2h0m.1-1.0h0m.1-3.5h0m.1,5.0h0m.1-3.8h0m.1,1.3h0m.1-1.1h0m.1-.1h0m.1-.4h0m.1,1.7h0m.1-1.9h0m.1-.7h0m.1,.9h0m.1,.7h0m.1-2.8h0m.1,3.7h0m.1-2.1h0m.1,1.9h0m.1,.8h0m.1-1.5h0m.1,.2h0m.1-1.3h0m.1-.4h0m.2-1.7h0m.1,2.2h0m.1-.5h0m.1-2.6h0m.1,3.5h0m.1,1.6h0m.1-1.5h0m.1,.9h0m.1-2.0h0m.1-1.0h0m.1,1.3h0m.1-.6h0m.1-1.1h0m.1,2.8h0m.1-1.2h0m.1-1.2h0m.1,1.1h0m.1-.6h0m.1,1.0h0m.1,1.2h0m.1-3.0h0m.1-.9h0m.1,3.4h0m.1,1.3h0m.1-4.1h0m.1-.5h0m.1-.5h0m.1,1.5h0m.1,.1h0m.1-.6h0m.1,1.4h0m.1-2.3h0m.1,.2h0m.1-.9h0m.1,3.4h0m.1-.5h0m.2,.3h0m.1-3.0h0m.1,2.8h0m.1-1.5h0m.1,.5h0m.1-.2h0m.1-1.3h0m.1,.1h0m.1-2.0h0m.1,1.3h0m.1,.3h0m.1-1.3h0m.1,1.6h0m.1,1.5h0m.1-2.4h0m.1-.8h0m.1,.1h0m.1,1.3h0" fill="none" stroke="#000" stroke-width="2.9" stroke-linecap="round"/>
<path d="M474.8,363.4 L476.6,360.2 L477.8,357.0 L478.2,355.1" fill="none" stroke="#000" stroke-width="4.3" stroke-linecap="round" stroke-linejoin="round"/>
<path d="M479.7,321.4 L479.7,321.9 L479.7,322.3 L479.7,322.8 L479.7,323.2 L479.7,323.7 L479.8,324.1 L479.8,324.6 L479.8,325.0 L479.8,325.5 L479.8,325.9 L479.9,326.4 L479.9,326.8 L479.9,327.3 L480.0,327.7 L480.0,328.2 L480.1,328.6 L480.2,329.0 L480.2,329.4 L480.3,329.8 L480.4,330.2 L480.5,330.6 L480.6,330.9 L480.7,331.3 L480.9,331.6 L481.1,331.9 L481.2,332.1 L481.4,332.4 L481.6,332.6 L481.9,332.8 L482.1,333.0 L482.3,333.3 L482.5,333.5" fill="none" stroke="#000" stroke-width="2.7" stroke-linecap="round" stroke-linejoin="round"/>
<path d="M479.7,323.7h0m.1,1.5h0m.1,1.7h0m.1-.6h0m.1,2.8h0m.1,1.0h0m.1-.9h0m.1,1.0h0m.1-.5h0m.1,2.2h0m.1,1.1h0m.1-1.1h0m.1,.4h0m.1-.4h0m.1-.8h0m.1,0h0m.1,.6h0m.1,.9h0m.1-.1h0m.1,1.5h0m.2-.2h0m.1,1.1h0m.1-.9h0m.1-1.2h0m.1,.5h0m.1-2.2h0m.1,4.5h0m.1-2.9h0m.1,.3h0m.1,3.1h0m.1-3.9h0m.1,.7h0m.1,.8h0m.1-.6h0m.1,1.0h0m.1,.2h0m.1,.6h0m.1-.9h0m.1,1.1h0m.1-1.3h0m.1,1.3h0m.1,.8h0m.1-3.9h0m.1,2.1h0m.1,.6h0m.1-2.7h0m.1-1.6h0m.1,4.6h0m.1-1.3h0m.1,2.0h0m.1-1.0h0m.1,0h0m.1-.4h0m.1,.6h0m.1-1.3h0m.1,.6h0m.1,1.8h0m.1-1.4h0m.1,1.0h0m.1-.6h0m.2-.4h0m.1-.9h0m.1,2.5h0m.1-2.2h0m.1,1.6h0m.1-2.5h0m.1,2.4h0m.1,.2h0m.1-1.3h0m.1-1.3h0m.1,2.0h0m.1,.3h0m.1-.8h0m.1-.2h0m.1,2.2h0m.1-1.4h0m.1-.4h0m.1,1.7h0m.1-1.1h0m.1-.9h0m.1,2.1h0m.1-1.6h0m.1,1.7h0m.1-2.1h0m.1,1.4h0m.1,1.2h0m.1-1.0h0m.1,0h0m.1,0h0m.1,.6h0m.1-1.1h0m.1,.5h0m.1-.9h0m.1,2.9h0m.1-3.7h0m.1,2.3h0m.1-2.4h0m.1,2.0h0m.1,1.1h0m.2-3.2h0m.1,3.8h0m.1-3.6h0m.1,.2h0m.1,1.5h0m.1-1.9h0m.1,2.8h0m.1-.7h0m.1-4.2h0m.1,1.7h0m.1,.9h0m.1,1.6h0m.1-2.0h0m.1,.5h0m.1,1.7h0m.1-2.1h0m.1,1.7h0m.1-2.2h0m.1,3.2h0m.1,.5h0m.1-3.4h0m.1-1.6h0m.1,.9h0m.1,3.5h0m.1-2.0h0m.1,2.1h0m.1-3.2h0m.1,.6h0m.1,1.1h0m.1,1.5h0m.1-1.7h0m.1-1.1h0m.1,1.8h0m.1-.3h0m.1,.6h0m.1-.9h0m.1-.6h0m.1,.8h0m.1-3.3h0m.2,3.6h0m.1,1.3h0m.1-.9h0m.1-2.0h0m.1-.8h0m.1,3.8h0m.1-2.5h0m.1,.4h0m.1,.6h0m.1-1.1h0m.1,.8h0m.1,2.0h0m.1-2.7h0m.1,3.2h0m.1-2.1h0m.1-.1h0m.1,.8h0m.1,0h0m.1,.2h0m.1-.7h0m.1-1.6h0m.1,3.0h0m.1-2.4h0m.1-1.0h0m.1,2.3h0m.1-.3h0m.1-.9h0m.1,.1h0m.1,.6h0m.1,1.8h0m.1-2.7h0m.1-1.6h0m.1,.9h0m.1,1.4h0m.1-1.0h0m.1-.6h0m.1,1.8h0m.1,0h0m.1-1.3h0m.1,.7h0m.2-1.3h0m.1,0h0m.1,.3h0m.1-1.3h0m.1,2.2h0m.1-.6h0m.1-.6h0m.1,.8h0m.1,0h0m.1-1.2h0m.1,.2h0m.1-.3h0m.1,2.8h0m.1-4.1h0m.1,2.1h0m.1,1.2h0m.1-2.6h0m.1,.1h0m.1,0h0m.1-1.2h0m.1,4.0h0m.1-2.0h0m.1-1.2h0m.1,.6h0m.1,1.0h0m.1-.7h0m.1-.8h0m.1,1.9h0m.1-1.9h0m.1,.6h0m.1,.7h0m.1-1.2h0m.1,1.0h0m.1-1.0h0m.1,4.4h0m.1-4.2h0m.1,1.4h0m.1-2.0h0m.1-.4h0m.2,1.2h0m.1-.3h0m.1,0h0m.1,.4h0m.1,1.1h0m.1,1.4h0m.1,.1h0m.1-2.7h0m.1,2.3h0m.1-.2h0m.1-3.1h0m.1,.1h0m.1,.5h0m.1,2.7h0m.1-2.9h0m.1-.1h0m.1,2.1h0m.1-2.1h0m.1,0h0m.1,.9h0m.1-.6h0m.1-3.5h0m.1,1.5h0m.1,2.6h0m.1-2.9h0m.1,3.5h0m.1-1.8h0m.1,.4h0m.1,0h0m.1-2.8h0m.1,1.4h0m.1-.5h0m.1,1.7h0m.1,1.7h0m.1-2.4h0m.1,.3h0m.1-2.7h0m.1,2.0h0m.1,.2h0m.1,0h0m.2,1.0h0m.1,1.0h0m.1-1.9h0m.1,.5h0m.1-2.6h0m.1,2.8h0m.1-.8h0m.1-2.4h0m.1,2.7h0m.1-1.4h0m.1,2.2h0m.1-.8h0m.1-.5h0m.1,2.1h0m.1-2.5h0m.1-.3h0m.1,.4h0m.1,.1h0m.1-1.3h0m.1,1.8h0m.1-.2h0m.1-1.3h0m.1-1.5h0m.1,3.7h0m.1,.1h0m.1-.6h0m.1,.1h0m.1,1.0h0m.1-2.0h0m.1,1.7h0m.1-2.4h0m.1-1.0h0m.1,1.1h0m.1-.5h0m.1,1.1h0m.1,1.7h0m.1-1.9h0m.1,.8h0m.1,1.4h0m.2-.5h0m.1-2.4h0m.1-1.0h0m.1,3.7h0m.1-4.4h0m.1-1.0h0m.1-.3h0m.1,4.2h0m.1-3.6h0m.1,1.5h0m.1,.1h0m.1,1.9h0m.1-3.6h0m.1,1.8h0m.1,.3h0m.1,1.4h0m.1-2.2h0m.1,.6h0m.1-.8h0m.1,1.8h0m.1-.3h0m.1-1.8h0m.1,1.2h0m.1-2.8h0m.1,2.0h0m.1-1.3h0m.1,.6h0m.1,1.8h0m.1,1.5h0m.1-2.7h0m.1-.5h0m.1-.3h0m.1,1.4h0m.1-1.3h0m.1,1.5h0m.1,.7h0m.1-1.3h0m.1-1.4h0m.1,1.4h0m.1-2.0h0m.2-1.5h0m.1,3.9h0m.1,1.0h0m.1-.9h0m.1-2.3h0m.1-4.2h0m.1,3.6h0m.1,1.7h0m.1-1.4h0m.1,2.3h0m.1-3.0h0m.1,1.7h0m.1-.4h0m.1,0h0m.1-2.3h0m.1,1.7h0m.1,.4h0m.1-1.0h0m.1-1.3h0m.1,1.1h0m.1-.7h0m.1,1.7h0m.1,.8h0m.1-1.0h0m.1,0h0m.1-.8h0m.1,.5h0m.1-3.0h0m.1,2.7h0m.1,1.0h0m.1-1.9h0m.1,1.5h0m.1-3.0h0m.1,2.1h0m.1-.4h0m.1,.8h0m.1-.5h0m.1,2.7h0m.1-7.3h0m.2,2.3h0m.1,.9h0m.1,1.0h0m.1-1.0h0m.1-.2h0m.1-1.2h0m.1,.2h0m.1,.6h0m.1,3.2h0m.1-3.2h0m.1,4.7h0m.1-2.3h0m.1-1.9h0m.1,1.4h0m.1,.2h0m.1-3.0h0m.1-.7h0m.1,4.1h0m.1-3.3h0m.1,2.4h0m.1-.3h0m.1-3.3h0m.1,3.1h0m.1-.2h0m.1,1.0h0m.1-1.9h0m.1,.6h0m.1-.2h0m.1-.9h0m.1,2.5h0m.1-1.0h0m.1,.8h0m.1-1.7h0m.1,1.0h0m.1-2.9h0m.1,.4h0m.1,2.1h0m.1-1.7h0m.1-.3h0m.2,.7h0m.1-2.4h0m.1,2.3h0m.1,.3h0m.1-1.1h0m.1-1.2h0m.1,3.9h0m.1-1.9h0m.1-2.0h0m.1,.5h0m.1-1.5h0m.1-.2h0m.1-.3h0m.1,1.4h0m.1,1.6h0m.1,.4h0m.1-1.2h0m.1,1.5h0m.1-.7h0m.1-2.4h0m.1,.3h0m.1,1.5h0m.1,.5h0m.1,.5h0m.1-3.4h0m.1-.9h0m.1,5.3h0m.1-3.1h0m.1,1.6h0m.1-1.3h0m.1-2.0h0m.1,3.7h0m.1-1.3h0m.1,1.3h0m.1-1.3h0m.1-2.2h0m.1,1.3h0m.1,1.3h0m.1-2.4h0m.1,1.2h0m.2,1.2h0m.1-3.3h0m.1,1.1h0m.1,.7h0m.1,1.0h0m.1-1.5h0m.1-.9h0m.1,1.7h0m.1-1.7h0m.1,1.4h0m.1-.2h0m.1-.8h0m.1,1.4h0m.1,.4h0m.1-3.5h0m.1,2.4h0m.1-1.0h0m.1-.2h0m.1,.5h0m.1,1.4h0m.1-1.9h0m.1-.3h0m.1-1.3h0m.1,1.4h0m.1,.2h0m.1-1.4h0m.1,.8h0m.1,1.0h0m.1,1.2h0m.1-2.3h0m.1,3.0h0m.1-1.4h0m.1-.2h0m.1-.5h0m.1-.7h0m.1-1.0h0m.1,.6h0m.1,.2h0m.1,0h0m.2,1.8h0m.1,.6h0m.1-2.0h0m.1,.5h0m.1-2.3h0m.1-1.8h0m.1,2.4h0m.1,.4h0m.1,1.5h0m.1,1.3h0m.1-2.9h0m.1,1.3h0m.1-.3h0m.1-1.3h0m.1,.8h0m.1-.7h0m.1,1.5h0m.1-3.6h0m.1-1.8h0m.1,3.3h0m.1,1.0h0m.1,.1h0m.1-2.3h0m.1,1.4h0m.1-1.7h0m.1,1.8h0m.1-2.0h0m.1-.6h0m.1,2.7h0m.1-3.0h0m.1-.4h0m.1,3.0h0m.1-1.0h0m.1-3.4h0m.1,4.7h0m.1-3.4h0m.1,1.0h0m.1,.4h0m.1,2.8h0m.1-2.9h0m.2,1.2h0m.1-1.5h0m.1,.8h0m.1-2.6h0m.1,1.8h0m.1-.9h0m.1-.6h0m.1,1.6h0m.1,1.0h0m.1-.9h0m.1-1.1h0m.1,1.3h0m.1-2.5h0m.1,1.8h0m.1,.2h0m.1-.9h0m.1-.3h0m.1,.4h0m.1-1.0h0m.1,.4h0m.1,1.2h0m.1-3.6h0m.1,4.2h0m.1-1.2h0m.1-.4h0m.1-1.7h0m.1,.7h0m.1-.3h0m.1,1.7h0m.1-.2h0m.1,.7h0m.1-1.6h0m.1-2.9h0m.1,1.4h0m.1,.7h0m.1,.9h0m.1-2.6h0m.1,1.7h0m.1,.3h0m.2-1.0h0m.1,.5h0m.1,3.2h0m.1-3.1h0m.1,2.6h0m.1-2.4h0m.1-1.4h0m.1,1.6h0m.1-1.3h0m.1,.3h0m.1-3.0h0m.1,3.5h0m.1-1.4h0m.1,2.3h0m.1-1.5h0m.1-.7h0m.1-1.0h0m.1,1.4h0m.1-.6h0m.1-.7h0m.1,3.5h0m.1-2.8h0m.1,1.4h0m.1,.7h0m.1-1.5h0m.1,.2h0m.1-.3h0m.1,.6h0m.1-.6h0m.1-.2h0m.1-.5h0m.1-.9h0m.1,0h0m.1-.4h0m.1,1.0h0m.1,1.5h0m.1-3.1h0m.1,.4h0m.1-.6h0m.1,1.2h0m.2,1.3h0m.1-1.9h0m.1,.8h0m.1-3.6h0m.1,2.9h0m.1,.7h0m.1-1.5h0m.1-1.4h0m.1,2.7h0m.1-.8h0m.1,2.5h0m.1-3.3h0m.1,.5h0m.1-.4h0m.1,.6h0m.1-2.6h0m.1,4.1h0m.1-1.0h0m.1-1.2h0m.1-.3h0m.1,1.1h0m.1-.2h0m.1-1.2h0m.1,.3h0m.1,.6h0m.1-1.1h0m.1,.1h0m.1-.2h0m.1,0h0m.1-1.3h0m.1,.4h0m.1,1.7h0m.1,.5h0m.1-1.2h0m.1-4.8h0m.1,2.7h0m.1,2.5h0m.1,1.6h0m.1-.7h0m.2-1.9h0m.1-.3h0m.1-.2h0m.1,2.8h0m.1-2.0h0m.1-1.6h0m.1,2.4h0m.1-.2h0m.1-3.9h0m.1,1.8h0m.1,2.1h0m.1-.2h0m.1-2.9h0m.1,1.6h0m.1,1.1h0m.1-.8h0m.1-1.9h0m.1,1.1h0m.1,1.0h0m.1-.3h0m.1-2.0h0m.1,4.4h0m.1-2.9h0m.1-2.4h0m.1,1.5h0m.1-3.3h0m.1,2.7h0m.1,.8h0m.1,3.2h0m.1-3.0h0m.1,.2h0m.1,.4h0m.1-.8h0m.1-1.1h0m.1,2.5h0m.1-1.2h0m.1,1.3h0m.1-.7h0m.1-2.7h0m.2,.6h0m.1,0h0m.1-.1h0m.1,1.1h0m.1-.9h0m.1-.9h0m.1,3.0h0m.1-.3h0m.1-1.8h0m.1-1.5h0m.1,.5h0m.1-.2h0m.1-.3h0m.1-.1h0m.1,1.5h0m.1,0h0m.1,.1h0m.1-1.8h0m.1,1.5h0m.1,2.2h0m.1-2.4h0m.1-.9h0m.1,4.1h0m.1-3.3h0m.1-1.3h0m.1,1.9h0m.1-2.1h0m.1,.4h0m.1,1.7h0m.1-2.2h0m.1-1.2h0m.1,2.8h0m.1,.1h0m.1-3.0h0m.1,1.3h0m.1,1.9h0m.1-1.2h0m.1,.7h0m.1-1.3h0m.1-.8h0m.2,.1h0m.1,.2h0m.1,.6h0m.1-3.8h0m.1,.9h0m.1,2.5h0m.1,.8h0m.1-1.8h0m.1,.8h0m.1-1.5h0m.1-.4h0m.1,1.9h0m.1-.3h0m.1-.7h0m.1-1.1h0m.1,1.8h0m.1-.3h0m.1-.3h0m.1,.1h0m.1-.4h0" fill="none" stroke="#000" stroke-width="2.9" stroke-linecap="round"/>
<path d="M556.5,300.2 L557.6,298.0 L558.6,296.0" fill="none" stroke="#000" stroke-width="3.4" stroke-linecap="round" stroke-linejoin="round"/>
<path d="M559.5,294.6 L559.7,292.4" fill="none" stroke="#000" stroke-width="5.0" stroke-linecap="round" stroke-linejoin="round"/>
<path d="M482.5,333.5 L482.8,333.7 L483.1,333.8 L483.4,334.0 L483.7,334.2 L484.1,334.4 L484.4,334.5 L484.7,334.7 L485.1,334.8 L485.6,335.0 L486.1,335.1 L486.7,335.2 L487.2,335.3 L487.8,335.5 L488.4,335.6 L488.9,335.6 L489.5,335.7 L490.0,335.8 L490.6,335.8 L491.1,335.8 L491.7,335.9 L492.3,335.9 L492.8,335.9 L493.4,335.8 L493.9,335.8 L494.4,335.8 L495.0,335.7 L495.5,335.6 L496.0,335.5 L496.6,335.4 L497.1,335.3 L497.7,335.2 L498.3,335.0 L499.3,334.7 L500.3,334.4 L501.4,334.0 L502.5,333.6 L503.6,333.2 L504.8,332.8 L505.9,332.3 L507.0,331.8 L508.1,331.3 L509.2,330.7 L510.3,330.1 L511.4,329.5 L512.5,328.9 L513.6,328.3 L514.7,327.6 L515.8,327.0 L516.9,326.4 L518.0,325.7 L519.1,325.0 L520.2,324.4 L521.3,323.7 L522.4,323.0 L523.5,322.3 L524.5,321.7 L525.4,321.1 L526.3,320.6 L527.2,320.0 L528.1,319.5 L529.0,318.9 L529.8,318.4 L530.7,317.8 L531.5,317.3 L532.2,316.8 L532.9,316.3 L533.5,315.8 L534.2,315.3 L534.8,314.9 L535.5,314.4 L536.2,313.8 L536.9,313.3 L537.9,312.6 L538.9,311.9 L540.0,311.1 L541.0,310.3 L542.2,309.6 L543.3,308.8 L544.4,308.0 L545.6,307.2 L546.9,306.3 L548.2,305.5 L549.6,304.6 L551.0,303.7 L552.4,302.8 L553.7,302.0 L555.1,301.1 L556.5,300.2" fill="none" stroke="#f00" stroke-width="2.0" stroke-linecap="butt" stroke-linejoin="round"/>
<path d="M562.6,264.2 L562.6,264.5 L562.7,264.9 L562.7,265.2 L562.7,265.6 L562.8,265.9 L562.8,266.3 L562.9,266.6 L562.9,267.0 L563.0,267.4 L563.0,267.8 L563.0,268.2 L563.1,268.7 L563.2,269.1 L563.3,269.5 L563.4,269.9 L563.5,270.2 L563.6,270.5 L563.8,270.7 L564.0,270.9 L564.2,271.2 L564.4,271.4 L564.6,271.6 L564.8,271.8 L565.0,272.0" fill="none" stroke="#000" stroke-width="3.6" stroke-linecap="round" stroke-linejoin="round"/>
<path d="M562.6,265.0h0m.1,.9h0m.1,2.8h0m.1,.3h0m.1-1.1h0m.1-.7h0m.1,3.0h0m.1-1.2h0m.1,3.1h0m.1-3.7h0m.1,1.5h0m.1,2.8h0m.1-1.8h0m.1,1.1h0m.1,0h0m.1-1.4h0m.1,1.9h0m.1-2.1h0m.1,.8h0m.1,3.3h0m.1-2.9h0m.1,.8h0m.1-1.9h0m.2,3.3h0m.1-2.9h0m.1,.3h0m.1,.2h0m.1-.4h0m.1-.6h0m.1,1.5h0m.1-.2h0m.1,.5h0m.1-1.1h0m.1,.1h0m.1,.8h0m.1,.4h0m.1-1.2h0m.1,1.2h0m.1-.2h0m.1,1.7h0m.1-.6h0m.1-.1h0m.1,.6h0m.1-2.1h0m.1,2.6h0m.1-1.5h0m.1-.9h0m.1,1.2h0m.1-1.9h0m.1,3.8h0m.1-2.0h0m.1-2.3h0m.1,.5h0m.1,.8h0m.1,0h0m.1,1.3h0m.1,.6h0m.1,.2h0m.1-.6h0m.1-1.9h0m.1,2.7h0m.1,.2h0m.1-4.1h0m.1,1.8h0m.1,.3h0m.1-.5h0m.1,2.4h0m.2-.7h0m.1-.5h0m.1-1.7h0m.1-1.0h0m.1,1.5h0m.1,.1h0m.1,0h0m.1-1.6h0m.1,.8h0m.1,1.5h0m.1,1.0h0m.1-1.1h0m.1,.4h0m.1,.2h0m.1,.1h0m.1,1.6h0m.1-2.6h0m.1,1.4h0m.1-2.0h0m.1,3.3h0m.1-.6h0m.1,.4h0m.1-1.1h0m.1-.3h0m.1-1.5h0m.1,2.1h0m.1,1.3h0m.1-5.4h0m.1,6.0h0m.1-3.4h0m.1,1.7h0m.1-1.7h0m.1,.9h0m.1,1.3h0m.1-1.3h0m.1,2.6h0m.1-2.4h0m.1,.8h0m.1-1.6h0m.1,.1h0m.1,.1h0m.1,1.2h0m.1,1.5h0m.1-2.1h0m.2-1.8h0m.1,.9h0m.1-1.0h0m.1,2.4h0m.1-.6h0m.1-1.5h0m.1,1.0h0m.1,1.6h0m.1-.6h0m.1-1.4h0m.1,1.7h0m.1-.4h0m.1-1.3h0m.1,.9h0m.1,2.2h0m.1-3.9h0m.1,2.8h0m.1-1.6h0m.1,1.0h0m.1-.3h0m.1-.2h0m.1-.6h0m.1,.2h0m.1,.9h0m.1-.4h0m.1-2.5h0m.1,2.5h0m.1,1.1h0m.1-.6h0m.1-.9h0m.1-2.7h0m.1,3.1h0m.1,.1h0m.1,1.0h0m.1-3.2h0m.1,1.0h0m.1-.5h0m.1,.4h0m.1-2.0h0m.1,1.6h0m.1,0h0m.1,.1h0m.1,2.5h0m.1-2.9h0m.2,.2h0m.1,2.0h0m.1-2.2h0m.1,2.3h0m.1-1.1h0m.1-1.4h0m.1-.2h0m.1,1.1h0m.1-.5h0m.1,.4h0m.1-.9h0m.1,1.5h0m.1-1.7h0m.1,.2h0m.1,.3h0m.1-1.4h0m.1,1.2h0m.1,.1h0m.1-1.7h0m.1-.5h0m.1,4.0h0m.1-2.0h0m.1,.1h0m.1-.7h0m.1,2.9h0m.1-2.4h0m.1-2.1h0m.1,2.9h0m.1-1.9h0m.1,1.8h0m.1-.8h0m.1,1.8h0m.1-1.0h0m.1-1.2h0m.1,2.4h0m.1,1.6h0m.1-4.3h0m.1,2.1h0m.1-1.0h0m.1,.1h0m.1-2.3h0m.1,.4h0m.1,3.1h0m.1-1.7h0m.2-1.0h0m.1,3.1h0m.1-.8h0m.1-.7h0m.1-2.3h0m.1,1.3h0m.1,1.9h0m.1-4.7h0m.1,.6h0m.1,1.0h0m.1,2.3h0m.1-1.0h0m.1,.3h0m.1-.4h0m.1-.2h0m.1,1.5h0m.1,3.1h0m.1-4.2h0m.1,1.1h0m.1-2.4h0m.1,2.7h0m.1-2.0h0m.1,.1h0m.1-.9h0m.1-.5h0m.1,.3h0m.1-.6h0m.1-.5h0m.1,4.2h0m.1-1.9h0m.1,.7h0m.1-.7h0m.1-2.6h0m.1,1.9h0m.1-1.3h0m.1,.1h0m.1,.9h0m.1,.3h0m.1-.1h0m.1,0h0m.1-.6h0m.1,.4h0m.1,1.6h0m.1,1.2h0m.2-1.5h0m.1-1.8h0m.1,.8h0m.1,.7h0m.1,0h0m.1,.3h0m.1,0h0m.1-1.2h0m.1-1.0h0m.1-1.7h0m.1,3.5h0m.1-.7h0m.1-2.0h0m.1,1.1h0m.1-.6h0m.1-.1h0m.1,2.9h0m.1-2.8h0m.1,3.7h0m.1-3.5h0m.1-.8h0m.1,1.1h0m.1,3.0h0m.1-3.5h0m.1,.8h0m.1-3.7h0m.1,3.7h0m.1-2.6h0m.1,1.6h0m.1,1.9h0m.1-2.2h0m.1,1.3h0m.1-1.3h0m.1-.2h0m.1,.8h0m.1,1.0h0m.1-1.4h0m.1-.2h0m.1-1.3h0m.1-1.0h0m.1,2.4h0m.1-.5h0m.1,.6h0m.1,1.0h0m.2-.4h0m.1-2.3h0m.1,1.5h0m.1-.1h0m.1-.7h0m.1-2.8h0m.1,1.9h0m.1,.9h0m.1,1.1h0m.1-1.5h0m.1-1.5h0m.1,3.7h0m.1-2.0h0m.1-.6h0m.1,1.3h0m.1,.2h0m.1-1.1h0m.1-.8h0m.1,0h0m.1,1.8h0m.1-1.3h0m.1,.8h0m.1-3.3h0m.1,1.8h0m.1,.1h0m.1-.1h0m.1-2.1h0m.1,2.0h0m.1,2.7h0m.1-1.8h0m.1-1.2h0m.1-.3h0m.1-.9h0m.1,2.1h0m.1-1.4h0m.1,.4h0m.1,1.7h0m.1,0h0m.1-.5h0m.1-3.1h0m.1,1.4h0m.1,2.3h0m.1-3.2h0m.1,3.2h0m.2-1.8h0m.1,1.3h0m.1-1.9h0m.1-1.1h0m.1,.2h0m.1,3.2h0m.1-2.4h0m.1-1.3h0m.1,2.7h0m.1-3.2h0m.1,1.8h0m.1,.6h0m.1-.1h0m.1,.1h0m.1-.8h0m.1-3.2h0m.1,3.6h0m.1-.5h0m.1-.2h0m.1,.8h0m.1,.3h0m.1-.8h0m.1,1.7h0m.1,.9h0m.1-2.6h0m.1-.9h0m.1-1.4h0m.1,2.5h0m.1-3.2h0m.1,4.6h0m.1-1.0h0m.1-2.1h0m.1,1.5h0m.1-2.1h0m.1-.4h0m.1,2.5h0m.1-2.5h0m.1,1.7h0m.1-.6h0m.1,2.2h0m.1-1.7h0m.1,1.6h0m.1-1.0h0m.1-2.3h0m.2-.6h0m.1-1.3h0m.1,2.8h0m.1-3.8h0m.1,2.6h0m.1-2.2h0m.1,2.3h0m.1,1.7h0m.1-2.2h0m.1,.4h0m.1,.1h0m.1,.9h0m.1-2.4h0m.1,2.1h0m.1-.4h0m.1-1.3h0m.1,0h0m.1,2.9h0m.1-.7h0m.1-.5h0m.1-1.7h0m.1,.6h0m.1-1.4h0m.1-.7h0m.1,1.7h0m.1-.2h0m.1-1.0h0m.1,0h0m.1,2.1h0m.1-1.2h0m.1-1.6h0m.1,4.8h0m.1-5.1h0m.1,2.5h0m.1-1.7h0m.1,2.2h0m.1-.8h0m.1,1.2h0m.1-1.6h0m.1-1.0h0m.1,3.0h0m.1-2.1h0m.1-.3h0m.1,0h0m.2-.8h0m.1,1.4h0m.1,1.7h0m.1-.3h0m.1-1.7h0m.1,.4h0m.1,.1h0m.1-2.0h0m.1,2.8h0m.1-1.7h0m.1-2.9h0m.1,3.2h0m.1-2.1h0m.1,1.6h0m.1,.4h0m.1-1.4h0m.1,.7h0m.1,1.4h0m.1-3.7h0m.1-.8h0m.1,2.3h0m.1-.2h0m.1,3.1h0m.1-1.6h0m.1-.7h0m.1-.9h0m.1-2.5h0m.1,.7h0m.1,1.3h0m.1,.6h0m.1-.9h0m.1,.6h0m.1,.8h0m.1-2.0h0m.1,.3h0m.1-.8h0m.1,2.9h0m.1-4.5h0m.1,3.5h0m.1,.1h0m.1-3.8h0m.1,2.0h0m.1,2.0h0m.1-2.7h0m.2,.3h0m.1,.7h0m.1,1.7h0m.1-1.0h0m.1-1.8h0m.1-1.1h0m.1-.2h0m.1,2.4h0m.1-3.5h0m.1,2.1h0m.1,1.5h0m.1-2.5h0m.1,1.1h0m.1,.2h0m.1,1.1h0m.1-2.9h0m.1,1.8h0m.1-.2h0m.1,.1h0m.1-2.4h0m.1,2.8h0m.1-1.9h0m.1,.9h0m.1-1.1h0m.1,3.7h0m.1-2.6h0m.1,2.7h0m.1-3.8h0m.1,.4h0m.1,2.3h0m.1-2.6h0m.1,1.0h0m.1,.9h0m.1-2.1h0m.1-.5h0m.1,.5h0m.1,1.6h0m.1-.8h0m.1,1.1h0m.1-2.2h0m.1-.4h0m.1-.9h0m.1,1.0h0m.1-.5h0m.2,.6h0m.1-1.2h0m.1,.3h0m.1,.4h0m.1,1.7h0m.1-1.8h0m.1-.4h0m.1,2.1h0m.1,.3h0m.1-2.3h0m.1,0h0m.1-2.1h0m.1,.2h0m.1,2.0h0m.1,1.9h0m.1,.5h0m.1-1.4h0m.1-1.8h0m.1,1.2h0m.1-2.7h0m.1,1.8h0m.1-1.5h0m.1,1.5h0m.1,1.9h0m.1,.9h0m.1-2.7h0m.1,.2h0m.1-2.8h0m.1,1.3h0m.1,2.8h0m.1-.5h0m.1-.5h0m.1-.6h0m.1,1.6h0m.1-2.7h0m.1,.1h0m.1,4.0h0m.1-5.0h0m.1,1.7h0m.1-1.2h0m.1,2.5h0m.1-2.5h0m.1-.1h0m.1-.1h0m.2,1.5h0m.1-2.5h0m.1-.7h0m.1,1.8h0m.1-.4h0m.1,1.1h0m.1-1.2h0m.1-.4h0m.1,1.1h0m.1,.2h0m.1,.7h0m.1-1.3h0m.1-2.6h0m.1,2.3h0m.1,0h0m.1-.2h0m.1,.8h0m.1-1.1h0m.1,1.8h0m.1-2.0h0m.1,2.3h0m.1-3.5h0m.1-1.7h0m.1,1.8h0m.1,5.1h0m.1-4.3h0m.1,.2h0m.1,.4h0m.1-1.0h0m.1,.9h0m.1-.2h0m.1,2.5h0m.1-1.2h0m.1-1.3h0m.1,.5h0m.1-.1h0m.1-2.4h0m.1,2.9h0m.1-2.4h0m.1,1.9h0m.1-1.0h0m.1,1.0h0m.1,.7h0m.1-1.2h0m.2-1.5h0m.1,.1h0m.1,1.2h0m.1-1.4h0m.1,0h0m.1,.3h0m.1-.4h0m.1,1.1h0m.1-1.4h0m.1,.7h0m.1-1.2h0m.1-1.4h0m.1,3.4h0m.1,.1h0m.1-2.0h0m.1,1.7h0m.1-.8h0m.1-2.0h0m.1,3.1h0m.1-4.4h0m.1,2.6h0m.1,1.0h0m.1-2.6h0m.1,3.6h0m.1-3.0h0m.1,2.4h0m.1-2.0h0m.1,1.1h0m.1-1.0h0m.1,3.2h0m.1-2.7h0m.1,.8h0m.1-.5h0m.1-.8h0m.1-.7h0m.1,.9h0m.1,.7h0m.1-.2h0m.1-.5h0m.1-1.0h0m.1,1.1h0m.1-2.4h0m.1,1.2h0m.1-2.8h0m.2,1.8h0m.1,.7h0m.1-1.8h0m.1,.3h0m.1,2.8h0m.1-.7h0m.1,.7h0m.1,.1h0m.1-.8h0m.1,.1h0m.1-.7h0m.1,1.3h0m.1-3.9h0m.1,1.8h0m.1,1.5h0m.1-.3h0m.1-1.1h0m.1-.6h0m.1,1.5h0m.1-1.4h0m.1-1.4h0m.1,3.0h0m.1-2.1h0m.1,.7h0m.1-2.5h0m.1-1.4h0m.1,4.0h0m.1,1.6h0m.1-5.4h0m.1,2.3h0m.1,1.4h0m.1-.5h0m.1-.3h0m.1-.2h0m.1-1.3h0m.1,2.7h0m.1-.2h0m.1-.9h0m.1-3.7h0m.1,5.4h0m.1-2.5h0m.1,.8h0m.1,1.8h0m.1-.9h0m.2-2.0h0m.1,1.5h0m.1-.7h0m.1-1.6h0m.1,.9h0m.1-2.6h0m.1,.2h0m.1,2.3h0m.1,1.6h0m.1-3.3h0m.1,2.9h0m.1-1.5h0m.1,2.2h0m.1-3.0h0m.1,4.4h0m.1-3.4h0m.1-1.0h0m.1,.6h0m.1-2.9h0m.1,2.9h0m.1-1.0h0m.1,1.1h0m.1-1.2h0m.1-3.3h0m.1,.1h0m.1,2.6h0m.1-.9h0m.1,2.8h0m.1-2.7h0m.1,2.0h0m.1-.9h0m.1,2.3h0m.1-2.0h0m.1,.1h0m.1-1.7h0m.1,1.8h0m.1,.3h0m.1-1.1h0m.1,1.1h0m.1-2.5h0m.1,1.1h0m.1,.8h0m.1-1.1h0m.1,2.1h0m.2-.9h0m.1-1.7h0m.1-.5h0m.1,1.2h0m.1-1.1h0m.1,.4h0m.1-1.0h0m.1,2.5h0m.1-.9h0m.1,.2h0m.1,.6h0m.1-4.3h0m.1,3.1h0m.1-.4h0m.1,1.2h0m.1-.3h0m.1,0h0m.1,1.0h0m.1-4.4h0m.1,1.0h0m.1,3.1h0m.1,.2h0m.1-3.1h0" fill="none" stroke="#000" stroke-width="2.9" stroke-linecap="round"/>
<path d="M639.2,238.0 L640.6,235.6 L641.5,233.4" fill="none" stroke="#000" stroke-width="4.2" stroke-linecap="round" stroke-linejoin="round"/>
<path d="M641.7,232.6 L642.0,230.2" fill="none" stroke="#000" stroke-width="5.2" stroke-linecap="round" stroke-linejoin="round"/>
<path d="M562.2,50.0h0M562.2,53.6h0M562.2,57.2h0M562.2,254.0h0M562.2,257.6h0M562.2,261.2h0" stroke="#000" stroke-width="2.6" stroke-linecap="round" fill="none"/>
</svg>
</body></html>
